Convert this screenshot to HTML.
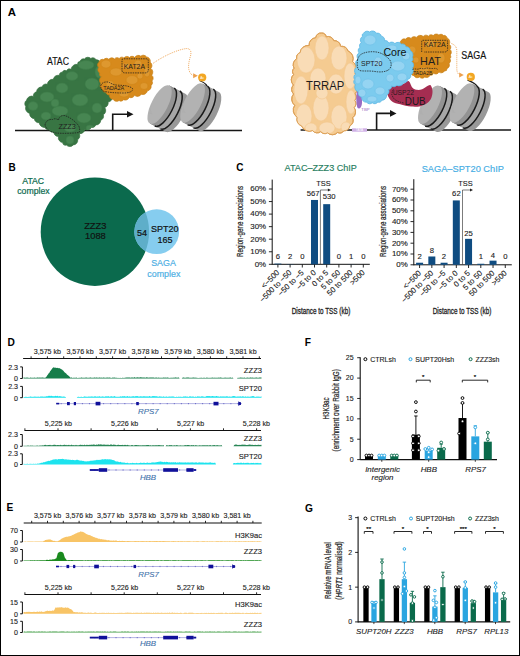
<!DOCTYPE html>
<html><head><meta charset="utf-8"><style>
html,body{margin:0;padding:0;background:#fff;}
svg{display:block;font-family:"Liberation Sans", sans-serif;}
</style></head><body>
<svg width="520" height="656" viewBox="0 0 520 656">
<rect x="0.5" y="0.5" width="519" height="655" fill="#fff" stroke="#000" stroke-width="1"/>
<text x="7.80" y="15.60" font-size="11.4" text-anchor="start" fill="#000" font-weight="bold">A</text>
<path d="M15,130.6 L242,130.6" fill="none" stroke="#161616" stroke-width="1.5"/>
<path d="M112.7,130.8 L112.7,114.2 L128.5,114.2" fill="none" stroke="#161616" stroke-width="1.6"/>
<path d="M127,110.9 L133.5,114.2 L127,117.5 Z" fill="#161616"/>
<g transform="translate(159.6,104.6) rotate(27) scale(1.0)"><path d="M0,-21.3 L18.0,-21.3 A8.2,21.3 0 0 1 18.0,21.3 L0,21.3 Z" fill="#989898"/><path d="M5.4,-21.3 L11.8,-21.3 A8.2,21.3 0 0 1 11.8,21.3 L5.4,21.3 A8.2,21.3 0 0 0 5.4,-21.3Z" fill="#a6a6a6"/><path d="M0,-21.3 L5.4,-21.3 A8.2,21.3 0 0 1 5.4,21.3 L0,21.3Z" fill="#939393"/><ellipse cx="0" cy="0" rx="8.2" ry="21.3" fill="#b2b2b2"/><path d="M-1.6,11.7 A8.2,21.3 0 0 1 -7.8,2.1 L-4.9,12.8Z" fill="#acacac" opacity="0.5"/><path d="M5.4,-21.3 A8.2,21.3 0 0 1 5.4,21.3" fill="none" stroke="#1a1a1a" stroke-width="1.5"/><path d="M11.8,-21.3 A8.2,21.3 0 0 1 11.8,21.3" fill="none" stroke="#1a1a1a" stroke-width="1.5"/></g>
<g transform="translate(192.6,103.0) rotate(27) scale(1.02)"><path d="M0,-21.3 L18.0,-21.3 A8.2,21.3 0 0 1 18.0,21.3 L0,21.3 Z" fill="#989898"/><path d="M5.4,-21.3 L11.8,-21.3 A8.2,21.3 0 0 1 11.8,21.3 L5.4,21.3 A8.2,21.3 0 0 0 5.4,-21.3Z" fill="#a6a6a6"/><path d="M0,-21.3 L5.4,-21.3 A8.2,21.3 0 0 1 5.4,21.3 L0,21.3Z" fill="#939393"/><ellipse cx="0" cy="0" rx="8.2" ry="21.3" fill="#b2b2b2"/><path d="M-1.6,11.7 A8.2,21.3 0 0 1 -7.8,2.1 L-4.9,12.8Z" fill="#acacac" opacity="0.5"/><path d="M5.4,-21.3 A8.2,21.3 0 0 1 5.4,21.3" fill="none" stroke="#1a1a1a" stroke-width="1.5"/><path d="M11.8,-21.3 A8.2,21.3 0 0 1 11.8,21.3" fill="none" stroke="#1a1a1a" stroke-width="1.5"/></g>
<path d="M199.5,80.5 C203,82 206,83.5 207,86" fill="none" stroke="#1c1c1c" stroke-width="1.3"/>
<circle cx="202.2" cy="77.5" r="4.1" fill="#f2a623"/>
<text x="202.20" y="78.90" font-size="3.4" text-anchor="middle" fill="#fff">Ac</text>
<path d="M80.0,61.5 A3.4,3.4 0 0 1 84.4,59.0 A4.4,4.4 0 0 1 90.8,58.4 A3.8,3.8 0 0 1 96.2,59.8 A4.4,4.4 0 0 1 100.8,64.5 A4.9,4.9 0 0 1 103.0,71.4 A3.2,3.2 0 0 1 104.2,75.9 A3.3,3.3 0 0 1 105.4,80.6 A5.1,5.1 0 0 1 107.6,87.7 A3.6,3.6 0 0 1 109.8,92.5 A3.4,3.4 0 0 1 112.3,96.8 A4.6,4.6 0 0 1 108.0,102.0 A4.3,4.3 0 0 1 104.7,107.4 A5.1,5.1 0 0 1 103.3,114.8 A4.1,4.1 0 0 1 100.7,120.2 A4.7,4.7 0 0 1 95.7,124.9 A3.3,3.3 0 0 1 91.4,127.2 A4.7,4.7 0 0 1 84.8,129.4 A4.8,4.8 0 0 1 79.1,133.6 A4.3,4.3 0 0 1 77.7,139.6 A4.6,4.6 0 0 1 73.3,144.9 A4.7,4.7 0 0 1 66.4,145.1 A3.1,3.1 0 0 1 62.6,142.6 A5.0,5.0 0 0 1 58.5,136.4 A4.4,4.4 0 0 1 53.8,131.9 A3.6,3.6 0 0 1 49.0,129.6 A3.0,3.0 0 0 1 45.1,127.4 A5.1,5.1 0 0 1 39.3,122.7 A4.3,4.3 0 0 1 34.4,118.7 A4.9,4.9 0 0 1 29.7,113.4 A5.4,5.4 0 0 1 25.8,106.5 A4.3,4.3 0 0 1 26.5,100.3 A5.4,5.4 0 0 1 33.5,96.4 A3.8,3.8 0 0 1 36.6,91.8 A4.9,4.9 0 0 1 42.0,87.0 A4.1,4.1 0 0 1 47.4,84.3 A5.3,5.3 0 0 1 53.3,79.3 A4.8,4.8 0 0 1 59.3,75.5 A2.9,2.9 0 0 1 62.2,72.2 A3.1,3.1 0 0 1 66.5,70.8 A3.3,3.3 0 0 1 71.1,69.3 A5.6,5.6 0 0 1 77.7,64.4 A2.5,2.5 0 0 1 80.0,61.5Z" fill="#387543" stroke="#336e3e" stroke-width="0.7"/>
<clipPath id="cp1"><path d="M80.0,61.5 A3.4,3.4 0 0 1 84.4,59.0 A4.4,4.4 0 0 1 90.8,58.4 A3.8,3.8 0 0 1 96.2,59.8 A4.4,4.4 0 0 1 100.8,64.5 A4.9,4.9 0 0 1 103.0,71.4 A3.2,3.2 0 0 1 104.2,75.9 A3.3,3.3 0 0 1 105.4,80.6 A5.1,5.1 0 0 1 107.6,87.7 A3.6,3.6 0 0 1 109.8,92.5 A3.4,3.4 0 0 1 112.3,96.8 A4.6,4.6 0 0 1 108.0,102.0 A4.3,4.3 0 0 1 104.7,107.4 A5.1,5.1 0 0 1 103.3,114.8 A4.1,4.1 0 0 1 100.7,120.2 A4.7,4.7 0 0 1 95.7,124.9 A3.3,3.3 0 0 1 91.4,127.2 A4.7,4.7 0 0 1 84.8,129.4 A4.8,4.8 0 0 1 79.1,133.6 A4.3,4.3 0 0 1 77.7,139.6 A4.6,4.6 0 0 1 73.3,144.9 A4.7,4.7 0 0 1 66.4,145.1 A3.1,3.1 0 0 1 62.6,142.6 A5.0,5.0 0 0 1 58.5,136.4 A4.4,4.4 0 0 1 53.8,131.9 A3.6,3.6 0 0 1 49.0,129.6 A3.0,3.0 0 0 1 45.1,127.4 A5.1,5.1 0 0 1 39.3,122.7 A4.3,4.3 0 0 1 34.4,118.7 A4.9,4.9 0 0 1 29.7,113.4 A5.4,5.4 0 0 1 25.8,106.5 A4.3,4.3 0 0 1 26.5,100.3 A5.4,5.4 0 0 1 33.5,96.4 A3.8,3.8 0 0 1 36.6,91.8 A4.9,4.9 0 0 1 42.0,87.0 A4.1,4.1 0 0 1 47.4,84.3 A5.3,5.3 0 0 1 53.3,79.3 A4.8,4.8 0 0 1 59.3,75.5 A2.9,2.9 0 0 1 62.2,72.2 A3.1,3.1 0 0 1 66.5,70.8 A3.3,3.3 0 0 1 71.1,69.3 A5.6,5.6 0 0 1 77.7,64.4 A2.5,2.5 0 0 1 80.0,61.5Z"/></clipPath>
<g clip-path="url(#cp1)">
<ellipse cx="86" cy="65" rx="8" ry="4.5" fill="#4a8a55" opacity="0.85" stroke="#3f7e4a" stroke-width="0.6"/>
<ellipse cx="72" cy="76" rx="6" ry="4.5" fill="#4a8a55" opacity="0.85" stroke="#3f7e4a" stroke-width="0.6"/>
<ellipse cx="92" cy="84" rx="7" ry="6" fill="#4a8a55" opacity="0.85" stroke="#3f7e4a" stroke-width="0.6"/>
<ellipse cx="62" cy="88" rx="6" ry="5" fill="#4a8a55" opacity="0.85" stroke="#3f7e4a" stroke-width="0.6"/>
<ellipse cx="47" cy="97" rx="7" ry="5" fill="#4a8a55" opacity="0.85" stroke="#3f7e4a" stroke-width="0.6"/>
<ellipse cx="80" cy="100" rx="8" ry="6" fill="#4a8a55" opacity="0.85" stroke="#3f7e4a" stroke-width="0.6"/>
<ellipse cx="97" cy="108" rx="5" ry="5" fill="#4a8a55" opacity="0.85" stroke="#3f7e4a" stroke-width="0.6"/>
<ellipse cx="33" cy="106" rx="5" ry="4.5" fill="#4a8a55" opacity="0.85" stroke="#3f7e4a" stroke-width="0.6"/>
<ellipse cx="60" cy="111" rx="8" ry="5" fill="#4a8a55" opacity="0.85" stroke="#3f7e4a" stroke-width="0.6"/>
<ellipse cx="84" cy="118" rx="7" ry="5" fill="#4a8a55" opacity="0.85" stroke="#3f7e4a" stroke-width="0.6"/>
<ellipse cx="46" cy="116" rx="5" ry="4" fill="#4a8a55" opacity="0.85" stroke="#3f7e4a" stroke-width="0.6"/>
<ellipse cx="70" cy="128" rx="6" ry="4" fill="#4a8a55" opacity="0.85" stroke="#3f7e4a" stroke-width="0.6"/>
<ellipse cx="99" cy="72" rx="4" ry="6" fill="#4a8a55" opacity="0.85" stroke="#3f7e4a" stroke-width="0.6"/>
<ellipse cx="70" cy="140" rx="4" ry="4" fill="#4a8a55" opacity="0.85" stroke="#3f7e4a" stroke-width="0.6"/>
<ellipse cx="55" cy="103" rx="4" ry="4" fill="#4a8a55" opacity="0.85" stroke="#3f7e4a" stroke-width="0.6"/>
<ellipse cx="90" cy="128" rx="4" ry="3" fill="#4a8a55" opacity="0.85" stroke="#3f7e4a" stroke-width="0.6"/>
</g>
<path d="M45,125 C45.5,121 49,119 52.5,119.5 C55,118 57,119 58.5,120 C59,116 63,114.5 66,116 C70,117.5 75,121 78.5,125.5 C80,128 80,131 79,132.5 C72,133.5 62,133.5 56,133 C50,132 46,129 45,125Z" fill="none" stroke="#1e1e1e" stroke-width="0.75" stroke-dasharray="1.5,0.9"/>
<text x="58.50" y="129.20" font-size="6.4" text-anchor="start" fill="#1e1e1e" textLength="17.3" lengthAdjust="spacingAndGlyphs">ZZZ3</text>
<text x="47.00" y="65.40" font-size="10.0" text-anchor="start" fill="#111" textLength="22" lengthAdjust="spacingAndGlyphs" stroke="#111" stroke-width="0.15">ATAC</text>
<path d="M99.0,62.0 A3.5,3.5 0 0 1 103.8,59.6 A3.3,3.3 0 0 1 108.8,59.3 A3.7,3.7 0 0 1 114.4,59.0 A3.2,3.2 0 0 1 119.2,58.5 A3.1,3.1 0 0 1 123.9,58.0 A3.6,3.6 0 0 1 129.4,57.5 A3.5,3.5 0 0 1 134.7,57.5 A4.1,4.1 0 0 1 140.8,56.2 A3.8,3.8 0 0 1 146.5,56.9 A4.3,4.3 0 0 1 150.2,62.2 A4.1,4.1 0 0 1 150.8,68.4 A4.6,4.6 0 0 1 151.7,75.2 A3.8,3.8 0 0 1 151.9,81.0 A3.0,3.0 0 0 1 151.0,85.4 A4.3,4.3 0 0 1 147.4,90.8 A4.6,4.6 0 0 1 141.3,94.2 A4.5,4.5 0 0 1 134.5,95.3 A3.7,3.7 0 0 1 129.2,97.2 A4.1,4.1 0 0 1 123.5,99.7 A3.0,3.0 0 0 1 119.1,100.5 A4.1,4.1 0 0 1 113.0,99.2 A3.7,3.7 0 0 1 109.4,94.9 A3.0,3.0 0 0 1 105.9,92.0 A2.7,2.7 0 0 1 102.6,89.6 A4.2,4.2 0 0 1 100.8,83.5 A4.5,4.5 0 0 1 101.3,76.8 A2.5,2.5 0 0 1 99.8,73.2 A3.9,3.9 0 0 1 98.7,67.4 A3.2,3.2 0 0 1 98.7,62.5 A0.6,0.6 0 0 1 99.0,62.0Z" fill="#d78a1c" stroke="#c67e14" stroke-width="0.7"/>
<clipPath id="cp2"><path d="M99.0,62.0 A3.5,3.5 0 0 1 103.8,59.6 A3.3,3.3 0 0 1 108.8,59.3 A3.7,3.7 0 0 1 114.4,59.0 A3.2,3.2 0 0 1 119.2,58.5 A3.1,3.1 0 0 1 123.9,58.0 A3.6,3.6 0 0 1 129.4,57.5 A3.5,3.5 0 0 1 134.7,57.5 A4.1,4.1 0 0 1 140.8,56.2 A3.8,3.8 0 0 1 146.5,56.9 A4.3,4.3 0 0 1 150.2,62.2 A4.1,4.1 0 0 1 150.8,68.4 A4.6,4.6 0 0 1 151.7,75.2 A3.8,3.8 0 0 1 151.9,81.0 A3.0,3.0 0 0 1 151.0,85.4 A4.3,4.3 0 0 1 147.4,90.8 A4.6,4.6 0 0 1 141.3,94.2 A4.5,4.5 0 0 1 134.5,95.3 A3.7,3.7 0 0 1 129.2,97.2 A4.1,4.1 0 0 1 123.5,99.7 A3.0,3.0 0 0 1 119.1,100.5 A4.1,4.1 0 0 1 113.0,99.2 A3.7,3.7 0 0 1 109.4,94.9 A3.0,3.0 0 0 1 105.9,92.0 A2.7,2.7 0 0 1 102.6,89.6 A4.2,4.2 0 0 1 100.8,83.5 A4.5,4.5 0 0 1 101.3,76.8 A2.5,2.5 0 0 1 99.8,73.2 A3.9,3.9 0 0 1 98.7,67.4 A3.2,3.2 0 0 1 98.7,62.5 A0.6,0.6 0 0 1 99.0,62.0Z"/></clipPath>
<g clip-path="url(#cp2)">
<ellipse cx="106" cy="64" rx="5" ry="4" fill="#e09a33" opacity="0.85" stroke="#cf8519" stroke-width="0.6"/>
<ellipse cx="116" cy="72" rx="6" ry="4" fill="#e09a33" opacity="0.85" stroke="#cf8519" stroke-width="0.6"/>
<ellipse cx="132" cy="80" rx="6" ry="4.5" fill="#e09a33" opacity="0.85" stroke="#cf8519" stroke-width="0.6"/>
<ellipse cx="144" cy="86" rx="4" ry="3.5" fill="#e09a33" opacity="0.85" stroke="#cf8519" stroke-width="0.6"/>
<ellipse cx="110" cy="84" rx="4" ry="3.5" fill="#e09a33" opacity="0.85" stroke="#cf8519" stroke-width="0.6"/>
<ellipse cx="138" cy="64" rx="4" ry="4" fill="#e09a33" opacity="0.85" stroke="#cf8519" stroke-width="0.6"/>
<ellipse cx="124" cy="94" rx="5" ry="3" fill="#e09a33" opacity="0.85" stroke="#cf8519" stroke-width="0.6"/>
<ellipse cx="147" cy="72" rx="3" ry="5" fill="#e09a33" opacity="0.85" stroke="#cf8519" stroke-width="0.6"/>
<ellipse cx="126" cy="66" rx="4" ry="3" fill="#e09a33" opacity="0.85" stroke="#cf8519" stroke-width="0.6"/>
<ellipse cx="140" cy="76" rx="3" ry="3" fill="#e09a33" opacity="0.85" stroke="#cf8519" stroke-width="0.6"/>
</g>
<path d="M122,60 Q122,58.8 123.5,58.8 L146.5,58.8 Q148.3,58.8 148.3,61 L148.3,70 Q148.3,72.9 145,72.9 L125,72.9 Q122,72.9 122,70 Z" fill="none" stroke="#1e1e1e" stroke-width="0.75" stroke-dasharray="1.5,0.9"/>
<text x="123.80" y="69.10" font-size="6.8" text-anchor="start" fill="#1e1e1e" textLength="21.2" lengthAdjust="spacingAndGlyphs">KAT2A</text>
<path d="M100.8,85.5 C101.5,82.5 106,81 109.5,82.5 C112,84 114,85 118,85.2 C124,85.3 130,86 132.5,88.5 C133.5,91 130,93 124,93 C116,93 108,92.5 103,91 C101,89.5 100.5,87.5 100.8,85.5Z" fill="none" stroke="#1e1e1e" stroke-width="0.75" stroke-dasharray="1.5,0.9"/>
<text x="103.20" y="90.00" font-size="5.3" text-anchor="start" fill="#1e1e1e" textLength="21" lengthAdjust="spacingAndGlyphs">TADA2A</text>
<path d="M153,63.4 C162,57 176,50 186,48.6 C191,48.2 191.5,52 190.5,56 C189,61 188,66 189,70 C190,73.5 191.5,75 193.8,75.7" fill="none" stroke="#eda04e" stroke-width="0.9" stroke-dasharray="1,1"/>
<path d="M193.2,73.3 L197.8,75.8 L193.2,78.3Z" fill="#eda04e"/>
<path d="M300.6,130 L511,130" fill="none" stroke="#161616" stroke-width="1.5"/>
<path d="M376.6,130 L376.6,113.4 L391.5,113.4" fill="none" stroke="#161616" stroke-width="1.6"/>
<path d="M390,110.1 L396.5,113.4 L390,116.7 Z" fill="#161616"/>
<g transform="translate(430.0,104.8) rotate(27) scale(0.99)"><path d="M0,-21.3 L18.0,-21.3 A8.2,21.3 0 0 1 18.0,21.3 L0,21.3 Z" fill="#989898"/><path d="M5.4,-21.3 L11.8,-21.3 A8.2,21.3 0 0 1 11.8,21.3 L5.4,21.3 A8.2,21.3 0 0 0 5.4,-21.3Z" fill="#a6a6a6"/><path d="M0,-21.3 L5.4,-21.3 A8.2,21.3 0 0 1 5.4,21.3 L0,21.3Z" fill="#939393"/><ellipse cx="0" cy="0" rx="8.2" ry="21.3" fill="#b2b2b2"/><path d="M-1.6,11.7 A8.2,21.3 0 0 1 -7.8,2.1 L-4.9,12.8Z" fill="#acacac" opacity="0.5"/><path d="M5.4,-21.3 A8.2,21.3 0 0 1 5.4,21.3" fill="none" stroke="#1a1a1a" stroke-width="1.5"/><path d="M11.8,-21.3 A8.2,21.3 0 0 1 11.8,21.3" fill="none" stroke="#1a1a1a" stroke-width="1.5"/></g>
<g transform="translate(462.0,103.0) rotate(27) scale(1.02)"><path d="M0,-21.3 L18.0,-21.3 A8.2,21.3 0 0 1 18.0,21.3 L0,21.3 Z" fill="#989898"/><path d="M5.4,-21.3 L11.8,-21.3 A8.2,21.3 0 0 1 11.8,21.3 L5.4,21.3 A8.2,21.3 0 0 0 5.4,-21.3Z" fill="#a6a6a6"/><path d="M0,-21.3 L5.4,-21.3 A8.2,21.3 0 0 1 5.4,21.3 L0,21.3Z" fill="#939393"/><ellipse cx="0" cy="0" rx="8.2" ry="21.3" fill="#b2b2b2"/><path d="M-1.6,11.7 A8.2,21.3 0 0 1 -7.8,2.1 L-4.9,12.8Z" fill="#acacac" opacity="0.5"/><path d="M5.4,-21.3 A8.2,21.3 0 0 1 5.4,21.3" fill="none" stroke="#1a1a1a" stroke-width="1.5"/><path d="M11.8,-21.3 A8.2,21.3 0 0 1 11.8,21.3" fill="none" stroke="#1a1a1a" stroke-width="1.5"/></g>
<path d="M467.5,80 C471,81.5 475,83 477,86" fill="none" stroke="#1c1c1c" stroke-width="1.3"/>
<circle cx="470.8" cy="76.9" r="4.1" fill="#f2a623"/>
<text x="470.80" y="78.30" font-size="3.4" text-anchor="middle" fill="#fff">Ac</text>
<path d="M321.6,33.0 A5.3,5.3 0 0 0 315.7,37.7 A7.2,7.2 0 0 0 309.1,45.5 A8.0,8.0 0 0 0 300.1,52.7 A4.8,4.8 0 0 0 296.7,58.7 A6.9,6.9 0 0 0 294.1,68.2 A4.4,4.4 0 0 0 293.6,74.5 A7.3,7.3 0 0 0 293.4,85.0 A6.3,6.3 0 0 0 293.6,94.0 A7.9,7.9 0 0 0 294.7,105.3 A8.6,8.6 0 0 0 297.2,117.3 A6.8,6.8 0 0 0 301.6,125.9 A8.4,8.4 0 0 0 312.6,130.6 A5.7,5.7 0 0 0 320.8,131.6 A4.8,4.8 0 0 0 327.5,132.8 A7.1,7.1 0 0 0 337.6,132.5 A4.5,4.5 0 0 0 343.8,130.8 A5.5,5.5 0 0 0 349.8,125.8 A5.9,5.9 0 0 0 352.6,117.8 A7.3,7.3 0 0 0 354.1,107.5 A5.0,5.0 0 0 0 354.7,100.3 A4.5,4.5 0 0 0 355.0,93.8 A8.0,8.0 0 0 0 355.3,82.4 A6.0,6.0 0 0 0 354.9,73.8 A8.7,8.7 0 0 0 352.6,61.6 A8.2,8.2 0 0 0 347.9,50.9 A6.0,6.0 0 0 0 340.7,46.4 A6.3,6.3 0 0 0 333.8,40.6 A6.0,6.0 0 0 0 326.2,36.8 A4.2,4.2 0 0 0 321.6,33.0Z" fill="#f5cb91" stroke="#dea259" stroke-width="1.0"/>
<clipPath id="cp3"><path d="M321.6,33.0 A5.3,5.3 0 0 0 315.7,37.7 A7.2,7.2 0 0 0 309.1,45.5 A8.0,8.0 0 0 0 300.1,52.7 A4.8,4.8 0 0 0 296.7,58.7 A6.9,6.9 0 0 0 294.1,68.2 A4.4,4.4 0 0 0 293.6,74.5 A7.3,7.3 0 0 0 293.4,85.0 A6.3,6.3 0 0 0 293.6,94.0 A7.9,7.9 0 0 0 294.7,105.3 A8.6,8.6 0 0 0 297.2,117.3 A6.8,6.8 0 0 0 301.6,125.9 A8.4,8.4 0 0 0 312.6,130.6 A5.7,5.7 0 0 0 320.8,131.6 A4.8,4.8 0 0 0 327.5,132.8 A7.1,7.1 0 0 0 337.6,132.5 A4.5,4.5 0 0 0 343.8,130.8 A5.5,5.5 0 0 0 349.8,125.8 A5.9,5.9 0 0 0 352.6,117.8 A7.3,7.3 0 0 0 354.1,107.5 A5.0,5.0 0 0 0 354.7,100.3 A4.5,4.5 0 0 0 355.0,93.8 A8.0,8.0 0 0 0 355.3,82.4 A6.0,6.0 0 0 0 354.9,73.8 A8.7,8.7 0 0 0 352.6,61.6 A8.2,8.2 0 0 0 347.9,50.9 A6.0,6.0 0 0 0 340.7,46.4 A6.3,6.3 0 0 0 333.8,40.6 A6.0,6.0 0 0 0 326.2,36.8 A4.2,4.2 0 0 0 321.6,33.0Z"/></clipPath>
<g clip-path="url(#cp3)">
<ellipse cx="306" cy="60" rx="9" ry="13" fill="#f9dcb6" opacity="1.0" stroke="#f4c88e" stroke-width="0.6"/>
<ellipse cx="322" cy="48" rx="7" ry="12" fill="#f9dcb6" opacity="1.0" stroke="#f4c88e" stroke-width="0.6"/>
<ellipse cx="339" cy="58" rx="8" ry="12" fill="#f9dcb6" opacity="1.0" stroke="#f4c88e" stroke-width="0.6"/>
<ellipse cx="350" cy="76" rx="6" ry="13" fill="#f9dcb6" opacity="1.0" stroke="#f4c88e" stroke-width="0.6"/>
<ellipse cx="301" cy="90" rx="7" ry="14" fill="#f9dcb6" opacity="1.0" stroke="#f4c88e" stroke-width="0.6"/>
<ellipse cx="318" cy="78" rx="8" ry="10" fill="#f9dcb6" opacity="1.0" stroke="#f4c88e" stroke-width="0.6"/>
<ellipse cx="336" cy="84" rx="8" ry="10" fill="#f9dcb6" opacity="1.0" stroke="#f4c88e" stroke-width="0.6"/>
<ellipse cx="351" cy="102" rx="5" ry="12" fill="#f9dcb6" opacity="1.0" stroke="#f4c88e" stroke-width="0.6"/>
<ellipse cx="304" cy="116" rx="8" ry="12" fill="#f9dcb6" opacity="1.0" stroke="#f4c88e" stroke-width="0.6"/>
<ellipse cx="321" cy="108" rx="8" ry="13" fill="#f9dcb6" opacity="1.0" stroke="#f4c88e" stroke-width="0.6"/>
<ellipse cx="339" cy="117" rx="8" ry="12" fill="#f9dcb6" opacity="1.0" stroke="#f4c88e" stroke-width="0.6"/>
<ellipse cx="327" cy="128" rx="8" ry="6" fill="#f9dcb6" opacity="1.0" stroke="#f4c88e" stroke-width="0.6"/>
<ellipse cx="311" cy="128" rx="6" ry="5" fill="#f9dcb6" opacity="1.0" stroke="#f4c88e" stroke-width="0.6"/>
<ellipse cx="346" cy="127" rx="5" ry="5" fill="#f9dcb6" opacity="1.0" stroke="#f4c88e" stroke-width="0.6"/>
<ellipse cx="322" cy="93" rx="6" ry="6" fill="#f9dcb6" opacity="1.0" stroke="#f4c88e" stroke-width="0.6"/>
</g>
<path d="M321.6,33.0 A5.3,5.3 0 0 0 315.7,37.7 A7.2,7.2 0 0 0 309.1,45.5 A8.0,8.0 0 0 0 300.1,52.7 A4.8,4.8 0 0 0 296.7,58.7 A6.9,6.9 0 0 0 294.1,68.2 A4.4,4.4 0 0 0 293.6,74.5 A7.3,7.3 0 0 0 293.4,85.0 A6.3,6.3 0 0 0 293.6,94.0 A7.9,7.9 0 0 0 294.7,105.3 A8.6,8.6 0 0 0 297.2,117.3 A6.8,6.8 0 0 0 301.6,125.9 A8.4,8.4 0 0 0 312.6,130.6 A5.7,5.7 0 0 0 320.8,131.6 A4.8,4.8 0 0 0 327.5,132.8 A7.1,7.1 0 0 0 337.6,132.5 A4.5,4.5 0 0 0 343.8,130.8 A5.5,5.5 0 0 0 349.8,125.8 A5.9,5.9 0 0 0 352.6,117.8 A7.3,7.3 0 0 0 354.1,107.5 A5.0,5.0 0 0 0 354.7,100.3 A4.5,4.5 0 0 0 355.0,93.8 A8.0,8.0 0 0 0 355.3,82.4 A6.0,6.0 0 0 0 354.9,73.8 A8.7,8.7 0 0 0 352.6,61.6 A8.2,8.2 0 0 0 347.9,50.9 A6.0,6.0 0 0 0 340.7,46.4 A6.3,6.3 0 0 0 333.8,40.6 A6.0,6.0 0 0 0 326.2,36.8 A4.2,4.2 0 0 0 321.6,33.0Z" fill="none" stroke="#dea259" stroke-width="1.0"/>
<text x="306.10" y="90.40" font-size="12.4" text-anchor="start" fill="#1d1d1d" textLength="38.1" lengthAdjust="spacingAndGlyphs">TRRAP</text>
<path d="M357.5,88.5 C360.5,90 362.5,97 362,103 C361.8,107.5 359.5,109.5 357.6,108 C355.8,103 356,94 357.5,88.5Z" fill="#9b6cc3"/>
<text x="361.30" y="111.30" font-size="4.3" text-anchor="start" fill="#9b6cc3">TBP</text>
<rect x="352" y="128.3" width="15" height="3.4" fill="#cfb0e6"/>
<text x="359.50" y="131.20" font-size="3.2" text-anchor="middle" fill="#fff">TATA</text>
<path d="M401.0,41.0 A3.3,3.3 0 0 1 405.6,39.2 A3.6,3.6 0 0 1 411.0,38.4 A3.7,3.7 0 0 1 416.4,37.4 A4.5,4.5 0 0 1 423.2,36.5 A3.4,3.4 0 0 1 428.4,36.2 A3.2,3.2 0 0 1 433.2,35.6 A3.8,3.8 0 0 1 438.9,35.1 A2.9,2.9 0 0 1 443.3,35.5 A2.9,2.9 0 0 1 447.0,37.9 A4.5,4.5 0 0 1 449.2,44.3 A3.5,3.5 0 0 1 450.0,49.5 A3.6,3.6 0 0 1 450.1,55.0 A2.4,2.4 0 0 1 449.8,58.7 A3.3,3.3 0 0 1 449.0,63.5 A3.5,3.5 0 0 1 447.0,68.5 A2.4,2.4 0 0 1 444.4,71.0 A3.6,3.6 0 0 1 439.1,72.1 A3.8,3.8 0 0 1 433.4,73.1 A2.5,2.5 0 0 1 430.2,75.1 A3.7,3.7 0 0 1 424.8,76.9 A3.5,3.5 0 0 1 419.5,77.0 A3.7,3.7 0 0 1 414.0,75.7 A3.1,3.1 0 0 1 411.0,72.0 A4.0,4.0 0 0 1 406.5,67.8 A3.8,3.8 0 0 1 403.0,63.1 A2.5,2.5 0 0 1 401.2,59.9 A2.7,2.7 0 0 1 400.0,56.0 A4.3,4.3 0 0 1 399.8,49.4 A4.4,4.4 0 0 1 400.5,42.8 A1.2,1.2 0 0 1 401.0,41.0Z" fill="#d78a1c" stroke="#c67e14" stroke-width="0.7"/>
<clipPath id="cp4"><path d="M401.0,41.0 A3.3,3.3 0 0 1 405.6,39.2 A3.6,3.6 0 0 1 411.0,38.4 A3.7,3.7 0 0 1 416.4,37.4 A4.5,4.5 0 0 1 423.2,36.5 A3.4,3.4 0 0 1 428.4,36.2 A3.2,3.2 0 0 1 433.2,35.6 A3.8,3.8 0 0 1 438.9,35.1 A2.9,2.9 0 0 1 443.3,35.5 A2.9,2.9 0 0 1 447.0,37.9 A4.5,4.5 0 0 1 449.2,44.3 A3.5,3.5 0 0 1 450.0,49.5 A3.6,3.6 0 0 1 450.1,55.0 A2.4,2.4 0 0 1 449.8,58.7 A3.3,3.3 0 0 1 449.0,63.5 A3.5,3.5 0 0 1 447.0,68.5 A2.4,2.4 0 0 1 444.4,71.0 A3.6,3.6 0 0 1 439.1,72.1 A3.8,3.8 0 0 1 433.4,73.1 A2.5,2.5 0 0 1 430.2,75.1 A3.7,3.7 0 0 1 424.8,76.9 A3.5,3.5 0 0 1 419.5,77.0 A3.7,3.7 0 0 1 414.0,75.7 A3.1,3.1 0 0 1 411.0,72.0 A4.0,4.0 0 0 1 406.5,67.8 A3.8,3.8 0 0 1 403.0,63.1 A2.5,2.5 0 0 1 401.2,59.9 A2.7,2.7 0 0 1 400.0,56.0 A4.3,4.3 0 0 1 399.8,49.4 A4.4,4.4 0 0 1 400.5,42.8 A1.2,1.2 0 0 1 401.0,41.0Z"/></clipPath>
<g clip-path="url(#cp4)">
<ellipse cx="430" cy="44" rx="5" ry="4" fill="#e09a33" opacity="0.85" stroke="#cf8519" stroke-width="0.6"/>
<ellipse cx="441" cy="58" rx="4" ry="5" fill="#e09a33" opacity="0.85" stroke="#cf8519" stroke-width="0.6"/>
<ellipse cx="424" cy="70" rx="5" ry="3" fill="#e09a33" opacity="0.85" stroke="#cf8519" stroke-width="0.6"/>
<ellipse cx="412" cy="50" rx="4" ry="4" fill="#e09a33" opacity="0.85" stroke="#cf8519" stroke-width="0.6"/>
<ellipse cx="416" cy="60" rx="3" ry="3" fill="#e09a33" opacity="0.85" stroke="#cf8519" stroke-width="0.6"/>
</g>
<path d="M387.5,91.0 C388.0,89.4 389.2,87.4 391.0,86.4 C392.8,85.4 396.3,85.7 398.5,85.2 C400.7,84.7 402.5,84.2 404.2,83.5 C405.9,82.8 407.4,80.5 408.8,81.2 C410.2,81.9 411.1,86.1 412.3,87.5 C413.6,88.9 414.7,89.5 416.3,89.8 C417.9,90.1 420.2,90.0 422.1,89.3 C424.0,88.6 426.4,86.4 427.9,85.8 C429.3,85.2 430.0,84.6 430.8,85.5 C431.6,86.4 432.4,88.9 432.5,91.0 C432.6,93.1 432.2,95.9 431.3,97.9 C430.4,99.9 429.1,101.7 427.3,103.1 C425.5,104.5 423.1,105.6 420.4,106.2 C417.7,106.8 414.6,106.9 411.2,106.6 C407.8,106.3 403.4,105.2 400.2,104.3 C397.0,103.4 394.1,102.8 392.1,101.4 C390.1,100.1 388.9,97.9 388.1,96.2 C387.3,94.5 387.0,92.6 387.5,91.0Z" fill="#a52d51"/>
<path d="M363.5,33.4 A4.1,4.1 0 0 1 369.6,32.0 A4.6,4.6 0 0 1 376.5,33.3 A3.7,3.7 0 0 1 381.3,36.2 A3.6,3.6 0 0 1 384.5,40.7 A3.4,3.4 0 0 1 388.8,43.4 A4.0,4.0 0 0 1 394.9,43.6 A4.3,4.3 0 0 1 401.4,44.1 A3.5,3.5 0 0 1 406.0,46.8 A3.7,3.7 0 0 1 410.2,50.6 A4.7,4.7 0 0 1 412.3,57.3 A2.8,2.8 0 0 1 411.6,61.5 A4.4,4.4 0 0 1 412.5,68.1 A4.6,4.6 0 0 1 410.7,74.9 A3.6,3.6 0 0 1 407.6,79.3 A3.5,3.5 0 0 1 403.6,82.8 A4.8,4.8 0 0 1 396.7,85.2 A3.3,3.3 0 0 1 391.7,85.9 A3.1,3.1 0 0 1 388.6,89.5 A3.9,3.9 0 0 1 386.5,95.0 A4.5,4.5 0 0 1 381.9,100.2 A3.0,3.0 0 0 1 377.8,102.0 A3.7,3.7 0 0 1 372.2,102.8 A3.6,3.6 0 0 1 366.8,102.3 A4.9,4.9 0 0 1 361.6,97.1 A3.9,3.9 0 0 1 358.4,92.1 A5.3,5.3 0 0 1 355.3,84.7 A3.4,3.4 0 0 1 354.7,79.5 A3.7,3.7 0 0 1 355.7,74.0 A4.8,4.8 0 0 1 356.8,66.8 A5.3,5.3 0 0 1 358.0,58.9 A4.0,4.0 0 0 1 359.0,52.8 A3.6,3.6 0 0 1 360.0,47.4 A3.2,3.2 0 0 1 361.3,42.8 A4.3,4.3 0 0 1 362.5,36.4 A2.1,2.1 0 0 1 363.5,33.4Z" fill="#7ccbee" stroke="#5cb6e4" stroke-width="0.8"/>
<clipPath id="cp5"><path d="M363.5,33.4 A4.1,4.1 0 0 1 369.6,32.0 A4.6,4.6 0 0 1 376.5,33.3 A3.7,3.7 0 0 1 381.3,36.2 A3.6,3.6 0 0 1 384.5,40.7 A3.4,3.4 0 0 1 388.8,43.4 A4.0,4.0 0 0 1 394.9,43.6 A4.3,4.3 0 0 1 401.4,44.1 A3.5,3.5 0 0 1 406.0,46.8 A3.7,3.7 0 0 1 410.2,50.6 A4.7,4.7 0 0 1 412.3,57.3 A2.8,2.8 0 0 1 411.6,61.5 A4.4,4.4 0 0 1 412.5,68.1 A4.6,4.6 0 0 1 410.7,74.9 A3.6,3.6 0 0 1 407.6,79.3 A3.5,3.5 0 0 1 403.6,82.8 A4.8,4.8 0 0 1 396.7,85.2 A3.3,3.3 0 0 1 391.7,85.9 A3.1,3.1 0 0 1 388.6,89.5 A3.9,3.9 0 0 1 386.5,95.0 A4.5,4.5 0 0 1 381.9,100.2 A3.0,3.0 0 0 1 377.8,102.0 A3.7,3.7 0 0 1 372.2,102.8 A3.6,3.6 0 0 1 366.8,102.3 A4.9,4.9 0 0 1 361.6,97.1 A3.9,3.9 0 0 1 358.4,92.1 A5.3,5.3 0 0 1 355.3,84.7 A3.4,3.4 0 0 1 354.7,79.5 A3.7,3.7 0 0 1 355.7,74.0 A4.8,4.8 0 0 1 356.8,66.8 A5.3,5.3 0 0 1 358.0,58.9 A4.0,4.0 0 0 1 359.0,52.8 A3.6,3.6 0 0 1 360.0,47.4 A3.2,3.2 0 0 1 361.3,42.8 A4.3,4.3 0 0 1 362.5,36.4 A2.1,2.1 0 0 1 363.5,33.4Z"/></clipPath>
<g clip-path="url(#cp5)">
<ellipse cx="370" cy="40" rx="6" ry="5" fill="#98d5f2" opacity="0.9" stroke="#6fc0e8" stroke-width="0.6"/>
<ellipse cx="378" cy="62" rx="4" ry="5" fill="#98d5f2" opacity="0.9" stroke="#6fc0e8" stroke-width="0.6"/>
<ellipse cx="398" cy="66" rx="7" ry="5" fill="#98d5f2" opacity="0.9" stroke="#6fc0e8" stroke-width="0.6"/>
<ellipse cx="402" cy="77" rx="5" ry="4" fill="#98d5f2" opacity="0.9" stroke="#6fc0e8" stroke-width="0.6"/>
<ellipse cx="368" cy="84" rx="6" ry="5" fill="#98d5f2" opacity="0.9" stroke="#6fc0e8" stroke-width="0.6"/>
<ellipse cx="380" cy="91" rx="5" ry="4" fill="#98d5f2" opacity="0.9" stroke="#6fc0e8" stroke-width="0.6"/>
<ellipse cx="362" cy="93" rx="4" ry="4" fill="#98d5f2" opacity="0.9" stroke="#6fc0e8" stroke-width="0.6"/>
<ellipse cx="390" cy="78" rx="4" ry="4" fill="#98d5f2" opacity="0.9" stroke="#6fc0e8" stroke-width="0.6"/>
<ellipse cx="406" cy="56" rx="4" ry="4" fill="#98d5f2" opacity="0.9" stroke="#6fc0e8" stroke-width="0.6"/>
<ellipse cx="372" cy="99" rx="5" ry="3" fill="#98d5f2" opacity="0.9" stroke="#6fc0e8" stroke-width="0.6"/>
<ellipse cx="392" cy="48" rx="5" ry="3" fill="#98d5f2" opacity="0.9" stroke="#6fc0e8" stroke-width="0.6"/>
<ellipse cx="358" cy="80" rx="3" ry="4" fill="#98d5f2" opacity="0.9" stroke="#6fc0e8" stroke-width="0.6"/>
</g>
<path d="M357.5,60 C358.5,55 362,53 368,52 C374,51.2 380,52 384,55 C387,57 389.5,59 390.4,61 C391.7,64 391.5,67 389,69.5 C386,72 380,72.4 375,71.5 C369,70.5 363,71.5 359.5,70.5 C357,69 357,64 357.5,60Z" fill="none" stroke="#1e1e1e" stroke-width="0.75" stroke-dasharray="1.5,0.9"/>
<text x="361.00" y="66.10" font-size="7.1" text-anchor="start" fill="#1e1e1e" textLength="21.3" lengthAdjust="spacingAndGlyphs">SPT20</text>
<text x="383.40" y="55.90" font-size="11.1" text-anchor="start" fill="#111" textLength="23.1" lengthAdjust="spacingAndGlyphs">Core</text>
<path d="M421.7,52 L421.7,41.5 Q421.7,40.3 423,40.3 L446.5,40.3 Q447.6,40.3 447.6,41.5 L447.6,49 Q447.6,52 444.5,52 L424,52" fill="none" stroke="#1e1e1e" stroke-width="0.75" stroke-dasharray="1.5,0.9"/>
<text x="423.80" y="47.10" font-size="6.8" text-anchor="start" fill="#1e1e1e" textLength="21.9" lengthAdjust="spacingAndGlyphs">KAT2A</text>
<path d="M412.5,69.5 C415,68 417,70 419,68.8 C421,67.6 423,69.5 425,68.5 C428,67.5 431,69 434,68.4 C436,68 437.5,69 438,70" fill="none" stroke="#1e1e1e" stroke-width="0.7" stroke-dasharray="1.5,0.9"/>
<text x="413.20" y="74.50" font-size="5.1" text-anchor="start" fill="#1e1e1e" textLength="19.1" lengthAdjust="spacingAndGlyphs">TADA2B</text>
<text x="420.10" y="65.00" font-size="11" text-anchor="start" fill="#1e1e1e" textLength="20.8" lengthAdjust="spacingAndGlyphs">HAT</text>
<path d="M393.5,89.5 C391.5,91 392.5,93 391.8,94.5 C392.5,96 393,98.5 395.5,100 C398,101.5 401,102.5 404,103" fill="none" stroke="#1e1e1e" stroke-width="0.75" stroke-dasharray="1.5,0.9"/>
<text x="392.70" y="95.00" font-size="6.6" text-anchor="start" fill="#2a1a20" textLength="21.3" lengthAdjust="spacingAndGlyphs">USP22</text>
<text x="404.80" y="104.80" font-size="10.2" text-anchor="start" fill="#1a1a1a" textLength="20.8" lengthAdjust="spacingAndGlyphs">DUB</text>
<path d="M451.5,43.5 C455,45 456.8,47 456.8,51 L456.8,68 C456.8,71.5 457.5,73.8 459.6,74.8" fill="none" stroke="#eda04e" stroke-width="0.9" stroke-dasharray="1,1"/>
<path d="M459.2,72.5 L463.8,75 L459.2,77.5Z" fill="#eda04e"/>
<text x="461.30" y="58.50" font-size="10.2" text-anchor="start" fill="#111" textLength="24.9" lengthAdjust="spacingAndGlyphs" stroke="#111" stroke-width="0.15">SAGA</text>
<text x="8.40" y="171.20" font-size="10" text-anchor="start" fill="#000" font-weight="bold">B</text>
<defs><clipPath id="bigc"><circle cx="94.9" cy="231.8" r="54.2"/></clipPath></defs>
<circle cx="94.9" cy="231.8" r="54.2" fill="#0b6a4d"/>
<circle cx="156.7" cy="231.7" r="22.4" fill="#86cdef"/>
<circle cx="156.7" cy="231.7" r="22.4" fill="#5eaec9" clip-path="url(#bigc)"/>
<text x="33.20" y="183.60" font-size="8.7" text-anchor="middle" fill="#0b6a4d" stroke="#0b6a4d" stroke-width="0.2">ATAC</text>
<text x="33.40" y="194.40" font-size="8.7" text-anchor="middle" fill="#0b6a4d" stroke="#0b6a4d" stroke-width="0.2">complex</text>
<text x="95.30" y="228.50" font-size="9.3" text-anchor="middle" fill="#111" stroke="#111" stroke-width="0.2">ZZZ3</text>
<text x="95.40" y="239.20" font-size="9.3" text-anchor="middle" fill="#111" stroke="#111" stroke-width="0.2">1088</text>
<text x="141.90" y="235.70" font-size="9.0" text-anchor="middle" fill="#111" stroke="#111" stroke-width="0.2">54</text>
<text x="164.80" y="231.90" font-size="9.0" text-anchor="middle" fill="#111" stroke="#111" stroke-width="0.2">SPT20</text>
<text x="165.00" y="242.80" font-size="9.0" text-anchor="middle" fill="#111" stroke="#111" stroke-width="0.2">165</text>
<text x="163.50" y="266.40" font-size="8.9" text-anchor="middle" fill="#4fb0e4" stroke="#4fb0e4" stroke-width="0.2">SAGA</text>
<text x="163.80" y="277.20" font-size="8.9" text-anchor="middle" fill="#4fb0e4" stroke="#4fb0e4" stroke-width="0.2">complex</text>
<text x="236.30" y="171.20" font-size="10" text-anchor="start" fill="#000" font-weight="bold">C</text>
<text x="284.60" y="171.10" font-size="9.1" text-anchor="start" fill="#1f7d5e" textLength="72.3" lengthAdjust="spacingAndGlyphs" stroke="#1f7d5e" stroke-width="0.15">ATAC&#8211;ZZZ3 ChIP</text>
<line x1="272.20" y1="179.60" x2="272.20" y2="264.80" stroke="#111" stroke-width="1"/>
<line x1="268.90" y1="264.30" x2="272.20" y2="264.30" stroke="#111" stroke-width="0.9"/>
<text x="266.10" y="266.60" font-size="6.8" text-anchor="end" fill="#222" textLength="11.42" lengthAdjust="spacingAndGlyphs" stroke="#222" stroke-width="0.12">0%</text>
<line x1="268.90" y1="251.75" x2="272.20" y2="251.75" stroke="#111" stroke-width="0.9"/>
<text x="266.10" y="254.05" font-size="6.8" text-anchor="end" fill="#222" textLength="15.8" lengthAdjust="spacingAndGlyphs" stroke="#222" stroke-width="0.12">10%</text>
<line x1="268.90" y1="239.20" x2="272.20" y2="239.20" stroke="#111" stroke-width="0.9"/>
<text x="266.10" y="241.50" font-size="6.8" text-anchor="end" fill="#222" textLength="15.8" lengthAdjust="spacingAndGlyphs" stroke="#222" stroke-width="0.12">20%</text>
<line x1="268.90" y1="226.65" x2="272.20" y2="226.65" stroke="#111" stroke-width="0.9"/>
<text x="266.10" y="228.95" font-size="6.8" text-anchor="end" fill="#222" textLength="15.8" lengthAdjust="spacingAndGlyphs" stroke="#222" stroke-width="0.12">30%</text>
<line x1="268.90" y1="214.10" x2="272.20" y2="214.10" stroke="#111" stroke-width="0.9"/>
<text x="266.10" y="216.40" font-size="6.8" text-anchor="end" fill="#222" textLength="15.8" lengthAdjust="spacingAndGlyphs" stroke="#222" stroke-width="0.12">40%</text>
<line x1="268.90" y1="201.55" x2="272.20" y2="201.55" stroke="#111" stroke-width="0.9"/>
<text x="266.10" y="203.85" font-size="6.8" text-anchor="end" fill="#222" textLength="15.8" lengthAdjust="spacingAndGlyphs" stroke="#222" stroke-width="0.12">50%</text>
<line x1="268.90" y1="189.00" x2="272.20" y2="189.00" stroke="#111" stroke-width="0.9"/>
<text x="266.10" y="191.30" font-size="6.8" text-anchor="end" fill="#222" textLength="15.8" lengthAdjust="spacingAndGlyphs" stroke="#222" stroke-width="0.12">60%</text>
<line x1="272.20" y1="264.30" x2="369.80" y2="264.30" stroke="#111" stroke-width="1"/>
<line x1="277.90" y1="264.30" x2="277.90" y2="267.50" stroke="#111" stroke-width="0.9"/>
<rect x="274.40" y="263.62" width="7.00" height="0.68" fill="#0f4c81"/>
<text transform="translate(279.90,273.20) rotate(-45)" font-size="7.8" text-anchor="end" fill="#222" stroke="#222" stroke-width="0.12">&lt;&#8722;500</text>
<line x1="290.10" y1="264.30" x2="290.10" y2="267.50" stroke="#111" stroke-width="0.9"/>
<rect x="286.60" y="264.07" width="7.00" height="0.23" fill="#0f4c81"/>
<text transform="translate(292.10,273.20) rotate(-45)" font-size="7.8" text-anchor="end" fill="#222" stroke="#222" stroke-width="0.12">&#8722;500 to &#8722;50</text>
<line x1="302.30" y1="264.30" x2="302.30" y2="267.50" stroke="#111" stroke-width="0.9"/>
<text transform="translate(304.30,273.20) rotate(-45)" font-size="7.8" text-anchor="end" fill="#222" stroke="#222" stroke-width="0.12">&#8722;50 to &#8722;5</text>
<line x1="314.50" y1="264.30" x2="314.50" y2="267.50" stroke="#111" stroke-width="0.9"/>
<rect x="311.00" y="199.96" width="7.00" height="64.34" fill="#0f4c81"/>
<text transform="translate(316.50,273.20) rotate(-45)" font-size="7.8" text-anchor="end" fill="#222" stroke="#222" stroke-width="0.12">&#8722;5 to 0</text>
<line x1="326.70" y1="264.30" x2="326.70" y2="267.50" stroke="#111" stroke-width="0.9"/>
<rect x="323.20" y="204.16" width="7.00" height="60.14" fill="#0f4c81"/>
<text transform="translate(328.70,273.20) rotate(-45)" font-size="7.8" text-anchor="end" fill="#222" stroke="#222" stroke-width="0.12">0 to 5</text>
<line x1="338.90" y1="264.30" x2="338.90" y2="267.50" stroke="#111" stroke-width="0.9"/>
<text transform="translate(340.90,273.20) rotate(-45)" font-size="7.8" text-anchor="end" fill="#222" stroke="#222" stroke-width="0.12">5 to 50</text>
<line x1="351.10" y1="264.30" x2="351.10" y2="267.50" stroke="#111" stroke-width="0.9"/>
<rect x="347.60" y="264.19" width="7.00" height="0.11" fill="#0f4c81"/>
<text transform="translate(353.10,273.20) rotate(-45)" font-size="7.8" text-anchor="end" fill="#222" stroke="#222" stroke-width="0.12">50 to 500</text>
<line x1="363.30" y1="264.30" x2="363.30" y2="267.50" stroke="#111" stroke-width="0.9"/>
<text transform="translate(365.30,273.20) rotate(-45)" font-size="7.8" text-anchor="end" fill="#222" stroke="#222" stroke-width="0.12">&gt;500</text>
<text x="277.90" y="259.00" font-size="7.7" text-anchor="middle" fill="#222" stroke="#222" stroke-width="0.12">6</text>
<text x="290.10" y="259.00" font-size="7.7" text-anchor="middle" fill="#222" stroke="#222" stroke-width="0.12">2</text>
<text x="302.30" y="259.00" font-size="7.7" text-anchor="middle" fill="#222" stroke="#222" stroke-width="0.12">0</text>
<text x="313.20" y="195.50" font-size="7.7" text-anchor="middle" fill="#222" stroke="#222" stroke-width="0.12">567</text>
<text x="329.20" y="199.30" font-size="7.7" text-anchor="middle" fill="#222" stroke="#222" stroke-width="0.12">530</text>
<text x="339.00" y="259.00" font-size="7.7" text-anchor="middle" fill="#222" stroke="#222" stroke-width="0.12">0</text>
<text x="351.20" y="259.00" font-size="7.7" text-anchor="middle" fill="#222" stroke="#222" stroke-width="0.12">1</text>
<text x="363.40" y="259.00" font-size="7.7" text-anchor="middle" fill="#222" stroke="#222" stroke-width="0.12">0</text>
<path d="M320.4,264.3 L320.4,190 L328.9,190" fill="none" stroke="#444" stroke-width="0.7"/>
<path d="M327.9,188.4 L330.9,190 L327.9,191.6Z" fill="#222"/>
<text x="323.40" y="186.00" font-size="7.4" text-anchor="middle" fill="#222" stroke="#222" stroke-width="0.12">TSS</text>
<text transform="translate(243.4,221.5) rotate(-90)" font-size="8.2" text-anchor="middle" fill="#222" stroke="#222" stroke-width="0.2" textLength="71" lengthAdjust="spacingAndGlyphs">Region-gene associations</text>
<text x="321.00" y="314.10" font-size="8.9" text-anchor="middle" fill="#222" textLength="58.6" lengthAdjust="spacingAndGlyphs" stroke="#222" stroke-width="0.3">Distance to TSS (kb)</text>
<text x="421.70" y="172.20" font-size="9.1" text-anchor="start" fill="#45ade4" textLength="82.2" lengthAdjust="spacingAndGlyphs" stroke="#45ade4" stroke-width="0.15">SAGA&#8211;SPT20 ChIP</text>
<line x1="413.80" y1="179.20" x2="413.80" y2="265.30" stroke="#111" stroke-width="1"/>
<line x1="410.50" y1="264.80" x2="413.80" y2="264.80" stroke="#111" stroke-width="0.9"/>
<text x="407.70" y="267.10" font-size="6.8" text-anchor="end" fill="#222" textLength="11.42" lengthAdjust="spacingAndGlyphs" stroke="#222" stroke-width="0.12">0%</text>
<line x1="410.50" y1="254.00" x2="413.80" y2="254.00" stroke="#111" stroke-width="0.9"/>
<text x="407.70" y="256.30" font-size="6.8" text-anchor="end" fill="#222" textLength="15.8" lengthAdjust="spacingAndGlyphs" stroke="#222" stroke-width="0.12">10%</text>
<line x1="410.50" y1="243.20" x2="413.80" y2="243.20" stroke="#111" stroke-width="0.9"/>
<text x="407.70" y="245.50" font-size="6.8" text-anchor="end" fill="#222" textLength="15.8" lengthAdjust="spacingAndGlyphs" stroke="#222" stroke-width="0.12">20%</text>
<line x1="410.50" y1="232.40" x2="413.80" y2="232.40" stroke="#111" stroke-width="0.9"/>
<text x="407.70" y="234.70" font-size="6.8" text-anchor="end" fill="#222" textLength="15.8" lengthAdjust="spacingAndGlyphs" stroke="#222" stroke-width="0.12">30%</text>
<line x1="410.50" y1="221.60" x2="413.80" y2="221.60" stroke="#111" stroke-width="0.9"/>
<text x="407.70" y="223.90" font-size="6.8" text-anchor="end" fill="#222" textLength="15.8" lengthAdjust="spacingAndGlyphs" stroke="#222" stroke-width="0.12">40%</text>
<line x1="410.50" y1="210.80" x2="413.80" y2="210.80" stroke="#111" stroke-width="0.9"/>
<text x="407.70" y="213.10" font-size="6.8" text-anchor="end" fill="#222" textLength="15.8" lengthAdjust="spacingAndGlyphs" stroke="#222" stroke-width="0.12">50%</text>
<line x1="410.50" y1="200.00" x2="413.80" y2="200.00" stroke="#111" stroke-width="0.9"/>
<text x="407.70" y="202.30" font-size="6.8" text-anchor="end" fill="#222" textLength="15.8" lengthAdjust="spacingAndGlyphs" stroke="#222" stroke-width="0.12">60%</text>
<line x1="410.50" y1="189.20" x2="413.80" y2="189.20" stroke="#111" stroke-width="0.9"/>
<text x="407.70" y="191.50" font-size="6.8" text-anchor="end" fill="#222" textLength="15.8" lengthAdjust="spacingAndGlyphs" stroke="#222" stroke-width="0.12">70%</text>
<line x1="413.80" y1="264.80" x2="511.78" y2="264.80" stroke="#111" stroke-width="1"/>
<line x1="419.60" y1="264.80" x2="419.60" y2="268.00" stroke="#111" stroke-width="0.9"/>
<rect x="416.10" y="262.72" width="7.00" height="2.08" fill="#0f4c81"/>
<text transform="translate(421.60,273.70) rotate(-45)" font-size="7.8" text-anchor="end" fill="#222" stroke="#222" stroke-width="0.12">&lt;&#8722;500</text>
<line x1="431.84" y1="264.80" x2="431.84" y2="268.00" stroke="#111" stroke-width="0.9"/>
<rect x="428.34" y="256.49" width="7.00" height="8.31" fill="#0f4c81"/>
<text transform="translate(433.84,273.70) rotate(-45)" font-size="7.8" text-anchor="end" fill="#222" stroke="#222" stroke-width="0.12">&#8722;500 to &#8722;50</text>
<line x1="444.08" y1="264.80" x2="444.08" y2="268.00" stroke="#111" stroke-width="0.9"/>
<rect x="440.58" y="262.72" width="7.00" height="2.08" fill="#0f4c81"/>
<text transform="translate(446.08,273.70) rotate(-45)" font-size="7.8" text-anchor="end" fill="#222" stroke="#222" stroke-width="0.12">&#8722;50 to &#8722;5</text>
<line x1="456.32" y1="264.80" x2="456.32" y2="268.00" stroke="#111" stroke-width="0.9"/>
<rect x="452.82" y="200.42" width="7.00" height="64.38" fill="#0f4c81"/>
<text transform="translate(458.32,273.70) rotate(-45)" font-size="7.8" text-anchor="end" fill="#222" stroke="#222" stroke-width="0.12">&#8722;5 to 0</text>
<line x1="468.56" y1="264.80" x2="468.56" y2="268.00" stroke="#111" stroke-width="0.9"/>
<rect x="465.06" y="238.84" width="7.00" height="25.96" fill="#0f4c81"/>
<text transform="translate(470.56,273.70) rotate(-45)" font-size="7.8" text-anchor="end" fill="#222" stroke="#222" stroke-width="0.12">0 to 5</text>
<line x1="480.80" y1="264.80" x2="480.80" y2="268.00" stroke="#111" stroke-width="0.9"/>
<rect x="477.30" y="263.76" width="7.00" height="1.04" fill="#0f4c81"/>
<text transform="translate(482.80,273.70) rotate(-45)" font-size="7.8" text-anchor="end" fill="#222" stroke="#222" stroke-width="0.12">5 to 50</text>
<line x1="493.04" y1="264.80" x2="493.04" y2="268.00" stroke="#111" stroke-width="0.9"/>
<rect x="489.54" y="260.65" width="7.00" height="4.15" fill="#0f4c81"/>
<text transform="translate(495.04,273.70) rotate(-45)" font-size="7.8" text-anchor="end" fill="#222" stroke="#222" stroke-width="0.12">50 to 500</text>
<line x1="505.28" y1="264.80" x2="505.28" y2="268.00" stroke="#111" stroke-width="0.9"/>
<text transform="translate(507.28,273.70) rotate(-45)" font-size="7.8" text-anchor="end" fill="#222" stroke="#222" stroke-width="0.12">&gt;500</text>
<text x="419.60" y="258.80" font-size="7.7" text-anchor="middle" fill="#222" stroke="#222" stroke-width="0.12">2</text>
<text x="431.80" y="252.70" font-size="7.7" text-anchor="middle" fill="#222" stroke="#222" stroke-width="0.12">8</text>
<text x="444.00" y="258.80" font-size="7.7" text-anchor="middle" fill="#222" stroke="#222" stroke-width="0.12">2</text>
<text x="456.40" y="196.00" font-size="7.7" text-anchor="middle" fill="#222" stroke="#222" stroke-width="0.12">62</text>
<text x="468.50" y="236.00" font-size="7.7" text-anchor="middle" fill="#222" stroke="#222" stroke-width="0.12">25</text>
<text x="480.80" y="259.00" font-size="7.7" text-anchor="middle" fill="#222" stroke="#222" stroke-width="0.12">1</text>
<text x="493.00" y="257.60" font-size="7.7" text-anchor="middle" fill="#222" stroke="#222" stroke-width="0.12">4</text>
<text x="505.30" y="259.00" font-size="7.7" text-anchor="middle" fill="#222" stroke="#222" stroke-width="0.12">0</text>
<path d="M462.5,264.8 L462.5,190 L471.0,190" fill="none" stroke="#444" stroke-width="0.7"/>
<path d="M470.0,188.4 L473.0,190 L470.0,191.6Z" fill="#222"/>
<text x="465.50" y="186.00" font-size="7.4" text-anchor="middle" fill="#222" stroke="#222" stroke-width="0.12">TSS</text>
<text transform="translate(385.6,221.5) rotate(-90)" font-size="8.2" text-anchor="middle" fill="#222" stroke="#222" stroke-width="0.2" textLength="71" lengthAdjust="spacingAndGlyphs">Region-gene associations</text>
<text x="462.00" y="314.10" font-size="8.9" text-anchor="middle" fill="#222" textLength="58.6" lengthAdjust="spacingAndGlyphs" stroke="#222" stroke-width="0.3">Distance to TSS (kb)</text>
<text x="7.40" y="345.80" font-size="10.2" text-anchor="start" fill="#000" font-weight="bold">D</text>
<line x1="23.10" y1="358.50" x2="261.00" y2="358.50" stroke="#111" stroke-width="1.1"/>
<line x1="31.10" y1="356.30" x2="31.10" y2="358.50" stroke="#111" stroke-width="0.9"/>
<line x1="47.40" y1="356.30" x2="47.40" y2="358.50" stroke="#111" stroke-width="0.9"/>
<line x1="63.70" y1="356.30" x2="63.70" y2="358.50" stroke="#111" stroke-width="0.9"/>
<line x1="80.00" y1="356.30" x2="80.00" y2="358.50" stroke="#111" stroke-width="0.9"/>
<line x1="96.30" y1="356.30" x2="96.30" y2="358.50" stroke="#111" stroke-width="0.9"/>
<line x1="112.60" y1="356.30" x2="112.60" y2="358.50" stroke="#111" stroke-width="0.9"/>
<line x1="128.90" y1="356.30" x2="128.90" y2="358.50" stroke="#111" stroke-width="0.9"/>
<line x1="145.20" y1="356.30" x2="145.20" y2="358.50" stroke="#111" stroke-width="0.9"/>
<line x1="161.50" y1="356.30" x2="161.50" y2="358.50" stroke="#111" stroke-width="0.9"/>
<line x1="177.80" y1="356.30" x2="177.80" y2="358.50" stroke="#111" stroke-width="0.9"/>
<line x1="194.10" y1="356.30" x2="194.10" y2="358.50" stroke="#111" stroke-width="0.9"/>
<line x1="210.40" y1="356.30" x2="210.40" y2="358.50" stroke="#111" stroke-width="0.9"/>
<line x1="226.70" y1="356.30" x2="226.70" y2="358.50" stroke="#111" stroke-width="0.9"/>
<line x1="243.00" y1="356.30" x2="243.00" y2="358.50" stroke="#111" stroke-width="0.9"/>
<line x1="259.30" y1="356.30" x2="259.30" y2="358.50" stroke="#111" stroke-width="0.9"/>
<text x="47.40" y="353.50" font-size="7.1" text-anchor="middle" fill="#222" stroke="#222" stroke-width="0.12">3,575 kb</text>
<text x="80.00" y="353.50" font-size="7.1" text-anchor="middle" fill="#222" stroke="#222" stroke-width="0.12">3,576 kb</text>
<text x="112.60" y="353.50" font-size="7.1" text-anchor="middle" fill="#222" stroke="#222" stroke-width="0.12">3,577 kb</text>
<text x="145.20" y="353.50" font-size="7.1" text-anchor="middle" fill="#222" stroke="#222" stroke-width="0.12">3,578 kb</text>
<text x="177.80" y="353.50" font-size="7.1" text-anchor="middle" fill="#222" stroke="#222" stroke-width="0.12">3,579 kb</text>
<text x="210.40" y="353.50" font-size="7.1" text-anchor="middle" fill="#222" stroke="#222" stroke-width="0.12">3,580 kb</text>
<text x="243.00" y="353.50" font-size="7.1" text-anchor="middle" fill="#222" stroke="#222" stroke-width="0.12">3,581 kb</text>
<path d="M20.2,366.9 L22.4,366.9 L22.4,378.5 L20.2,378.5" fill="none" stroke="#111" stroke-width="1"/>
<text x="18.00" y="369.50" font-size="7.1" text-anchor="end" fill="#222" stroke="#222" stroke-width="0.12">2.3</text>
<text x="18.00" y="381.40" font-size="7.1" text-anchor="end" fill="#222" stroke="#222" stroke-width="0.12">0</text>
<path d="M23.5,378.5 L23.5,377.55 L24.2,377.54 L24.9,377.85 L25.6,377.81 L26.3,377.55 L27.0,377.63 L27.7,377.55 L28.4,377.77 L29.1,377.88 L29.8,377.80 L30.5,377.56 L31.2,377.81 L31.9,377.77 L32.6,377.74 L33.3,377.74 L34.0,377.74 L34.7,377.50 L35.4,377.87 L36.1,377.94 L36.8,377.49 L37.5,377.52 L38.2,377.47 L38.9,377.73 L39.6,377.48 L40.3,377.49 L41.0,377.83 L41.7,377.58 L42.4,377.54 L43.1,377.62 L43.8,377.69 L44.5,377.80 L45.2,377.63 L45.9,377.14 L46.6,376.62 L47.3,375.30 L48.0,374.48 L48.7,373.17 L49.4,372.63 L50.1,371.14 L50.8,370.42 L51.5,369.45 L52.2,368.62 L52.9,367.78 L53.6,367.27 L54.3,367.72 L55.0,367.39 L55.7,367.85 L56.4,367.88 L57.1,367.77 L57.8,367.96 L58.5,368.19 L59.2,368.06 L59.9,368.44 L60.6,368.79 L61.3,369.22 L62.0,369.48 L62.7,370.34 L63.4,370.79 L64.1,371.69 L64.8,372.48 L65.5,372.98 L66.2,373.51 L66.9,374.60 L67.6,374.88 L68.3,375.46 L69.0,376.18 L69.7,376.83 L70.4,377.68 L71.1,377.44 L71.8,377.48 L72.5,377.91 L73.2,377.81 L73.9,377.81 L74.6,377.68 L75.3,377.73 L76.0,377.70 L76.7,377.55 L77.4,377.93 L78.1,377.90 L78.8,377.86 L79.5,377.86 L80.2,377.89 L80.9,377.43 L81.6,377.49 L82.3,377.87 L83.0,377.66 L83.7,377.75 L84.4,377.75 L85.1,377.73 L85.8,377.58 L86.5,377.60 L87.2,377.72 L87.9,377.80 L88.6,377.73 L89.3,377.83 L90.0,377.61 L90.7,377.52 L91.4,377.69 L92.1,377.85 L92.8,377.79 L93.5,377.69 L94.2,377.57 L94.9,377.47 L95.6,377.68 L96.3,377.45 L97.0,377.55 L97.7,377.64 L98.4,377.67 L99.1,377.61 L99.8,377.49 L100.5,377.65 L101.2,377.51 L101.9,377.64 L102.6,377.76 L103.3,377.61 L104.0,377.54 L104.7,377.87 L105.4,377.69 L106.1,377.70 L106.8,377.48 L107.5,377.46 L108.2,377.74 L108.9,377.50 L109.6,377.56 L110.3,377.82 L111.0,377.73 L111.7,377.89 L112.4,377.58 L113.1,377.66 L113.8,377.56 L114.5,377.61 L115.2,377.68 L115.9,377.66 L116.6,377.74 L117.3,377.95 L118.0,377.74 L118.7,378.00 L119.4,377.95 L120.1,377.68 L120.8,377.98 L121.5,377.95 L122.2,377.93 L122.9,377.57 L123.6,377.88 L124.3,377.94 L125.0,377.54 L125.7,377.87 L126.4,377.50 L127.1,377.57 L127.8,377.47 L128.5,377.39 L129.2,377.57 L129.9,377.44 L130.6,377.84 L131.3,377.43 L132.0,377.55 L132.7,377.42 L133.4,377.76 L134.1,377.37 L134.8,377.24 L135.5,377.75 L136.2,377.58 L136.9,377.42 L137.6,377.25 L138.3,377.59 L139.0,377.61 L139.7,377.56 L140.4,377.34 L141.1,377.26 L141.8,377.49 L142.5,377.52 L143.2,377.51 L143.9,377.55 L144.6,377.52 L145.3,377.73 L146.0,377.49 L146.7,377.22 L147.4,377.56 L148.1,377.38 L148.8,377.73 L149.5,377.43 L150.2,377.41 L150.9,377.47 L151.6,377.56 L152.3,377.59 L153.0,377.52 L153.7,377.39 L154.4,377.80 L155.1,377.84 L155.8,377.51 L156.5,377.43 L157.2,377.65 L157.9,377.70 L158.6,377.57 L159.3,377.84 L160.0,377.81 L160.7,377.84 L161.4,377.65 L162.1,377.78 L162.8,377.82 L163.5,377.59 L164.2,377.46 L164.9,377.78 L165.6,377.57 L166.3,377.71 L167.0,377.49 L167.7,377.62 L168.4,377.78 L169.1,377.80 L169.8,377.89 L170.5,377.66 L171.2,377.70 L171.9,377.81 L172.6,377.71 L173.3,377.73 L174.0,377.49 L174.7,377.81 L175.4,377.36 L176.1,377.63 L176.8,377.56 L177.5,377.63 L178.2,377.43 L178.9,377.43 L179.6,378.50 L180.3,378.50 L181.0,378.50 L181.7,378.50 L182.4,377.68 L183.1,377.51 L183.8,377.40 L184.5,377.66 L185.2,377.79 L185.9,377.79 L186.6,377.56 L187.3,377.59 L188.0,377.45 L188.7,377.51 L189.4,377.82 L190.1,377.85 L190.8,377.82 L191.5,377.86 L192.2,377.63 L192.9,377.56 L193.6,377.55 L194.3,377.85 L195.0,377.59 L195.7,377.84 L196.4,377.80 L197.1,377.67 L197.8,377.96 L198.5,377.96 L199.2,377.65 L199.9,377.89 L200.6,377.86 L201.3,377.76 L202.0,377.72 L202.7,378.00 L203.4,377.86 L204.1,377.81 L204.8,377.79 L205.5,377.91 L206.2,377.74 L206.9,377.58 L207.6,377.82 L208.3,377.75 L209.0,377.94 L209.7,377.87 L210.4,377.69 L211.1,377.93 L211.8,377.59 L212.5,377.58 L213.2,377.94 L213.9,377.56 L214.6,377.81 L215.3,377.63 L216.0,377.63 L216.7,377.84 L217.4,377.66 L218.1,377.67 L218.8,377.60 L219.5,377.84 L220.2,377.62 L220.9,377.52 L221.6,377.65 L222.3,377.71 L223.0,377.90 L223.7,377.72 L224.4,377.79 L225.1,377.61 L225.8,377.63 L226.5,377.68 L227.2,377.86 L227.9,377.64 L228.6,377.64 L229.3,377.86 L230.0,377.51 L230.7,377.62 L231.4,377.88 L232.1,377.48 L232.8,377.87 L233.5,378.50 L234.2,378.50 L234.9,378.50 L235.6,378.50 L236.3,378.50 L237.0,378.50 L237.7,377.77 L238.4,377.83 L239.1,377.89 L239.8,377.56 L240.5,377.54 L241.2,377.64 L241.9,377.54 L242.6,377.73 L243.3,377.78 L244.0,377.71 L244.7,377.46 L245.4,377.88 L246.1,377.65 L246.8,377.78 L247.5,377.51 L248.2,377.72 L248.9,377.73 L249.6,377.69 L250.3,377.61 L251.0,377.49 L251.7,377.71 L252.4,377.45 L253.1,377.83 L253.8,377.74 L254.5,377.83 L255.2,377.82 L255.9,377.47 L256.6,377.49 L257.3,377.78 L258.0,377.78 L258.7,377.65 L259.4,377.47 L260.1,377.43 L260.8,377.47 L261.5,377.55 L261.5,378.5 Z" fill="#167d4a"/>
<text x="262.00" y="373.10" font-size="7.6" text-anchor="end" fill="#222" stroke="#222" stroke-width="0.12">ZZZ3</text>
<path d="M20.2,386.4 L22.4,386.4 L22.4,397.7 L20.2,397.7" fill="none" stroke="#111" stroke-width="1"/>
<text x="18.00" y="389.00" font-size="7.1" text-anchor="end" fill="#222" stroke="#222" stroke-width="0.12">2.3</text>
<text x="18.00" y="400.60" font-size="7.1" text-anchor="end" fill="#222" stroke="#222" stroke-width="0.12">0</text>
<path d="M23.5,397.7 L23.5,397.13 L24.2,396.96 L24.9,397.08 L25.6,396.86 L26.3,396.82 L27.0,397.06 L27.7,397.02 L28.4,396.65 L29.1,397.16 L29.8,396.61 L30.5,396.54 L31.2,396.49 L31.9,396.88 L32.6,396.75 L33.3,396.72 L34.0,396.67 L34.7,396.41 L35.4,396.61 L36.1,396.90 L36.8,396.46 L37.5,396.74 L38.2,396.64 L38.9,396.53 L39.6,397.10 L40.3,396.46 L41.0,396.51 L41.7,396.60 L42.4,396.53 L43.1,396.54 L43.8,396.71 L44.5,396.40 L45.2,396.75 L45.9,396.33 L46.6,396.17 L47.3,396.29 L48.0,396.15 L48.7,395.78 L49.4,395.78 L50.1,396.33 L50.8,395.76 L51.5,395.84 L52.2,396.27 L52.9,396.06 L53.6,396.19 L54.3,396.35 L55.0,396.02 L55.7,395.74 L56.4,396.26 L57.1,395.86 L57.8,396.03 L58.5,396.55 L59.2,396.05 L59.9,396.34 L60.6,396.16 L61.3,396.41 L62.0,396.47 L62.7,396.87 L63.4,396.62 L64.1,396.62 L64.8,396.67 L65.5,396.94 L66.2,397.70 L66.9,397.70 L67.6,397.70 L68.3,397.70 L69.0,397.70 L69.7,397.70 L70.4,397.70 L71.1,397.70 L71.8,397.70 L72.5,397.70 L73.2,397.70 L73.9,397.70 L74.6,397.70 L75.3,397.70 L76.0,397.70 L76.7,397.70 L77.4,397.10 L78.1,396.64 L78.8,396.71 L79.5,396.92 L80.2,396.88 L80.9,396.73 L81.6,396.64 L82.3,396.91 L83.0,397.05 L83.7,396.85 L84.4,396.35 L85.1,396.83 L85.8,396.54 L86.5,396.72 L87.2,396.67 L87.9,396.67 L88.6,396.45 L89.3,396.60 L90.0,396.68 L90.7,396.62 L91.4,396.57 L92.1,396.32 L92.8,396.67 L93.5,396.71 L94.2,396.37 L94.9,396.41 L95.6,396.17 L96.3,396.70 L97.0,396.42 L97.7,396.43 L98.4,396.73 L99.1,395.99 L99.8,396.59 L100.5,396.69 L101.2,396.39 L101.9,396.65 L102.6,396.29 L103.3,396.51 L104.0,396.69 L104.7,396.76 L105.4,396.22 L106.1,396.59 L106.8,396.18 L107.5,396.44 L108.2,396.07 L108.9,396.59 L109.6,396.63 L110.3,396.62 L111.0,396.19 L111.7,396.34 L112.4,396.57 L113.1,396.78 L113.8,396.31 L114.5,396.09 L115.2,396.39 L115.9,396.87 L116.6,396.85 L117.3,396.81 L118.0,396.75 L118.7,396.86 L119.4,396.85 L120.1,396.38 L120.8,396.17 L121.5,396.73 L122.2,396.11 L122.9,396.50 L123.6,396.23 L124.3,396.14 L125.0,396.11 L125.7,396.83 L126.4,396.61 L127.1,396.37 L127.8,396.09 L128.5,396.77 L129.2,396.60 L129.9,396.15 L130.6,396.74 L131.3,396.51 L132.0,396.55 L132.7,396.27 L133.4,396.07 L134.1,396.67 L134.8,396.21 L135.5,396.21 L136.2,396.12 L136.9,396.34 L137.6,396.04 L138.3,396.49 L139.0,396.44 L139.7,396.59 L140.4,396.14 L141.1,396.37 L141.8,396.54 L142.5,396.61 L143.2,396.17 L143.9,396.26 L144.6,396.17 L145.3,396.42 L146.0,396.34 L146.7,396.60 L147.4,396.15 L148.1,396.69 L148.8,396.33 L149.5,396.10 L150.2,396.16 L150.9,396.63 L151.6,396.53 L152.3,396.06 L153.0,396.23 L153.7,396.05 L154.4,396.06 L155.1,396.41 L155.8,396.06 L156.5,396.20 L157.2,396.53 L157.9,396.51 L158.6,396.76 L159.3,396.50 L160.0,396.07 L160.7,396.76 L161.4,396.40 L162.1,396.77 L162.8,396.81 L163.5,396.36 L164.2,396.70 L164.9,396.86 L165.6,396.79 L166.3,396.40 L167.0,396.46 L167.7,396.93 L168.4,396.76 L169.1,396.18 L169.8,396.79 L170.5,396.52 L171.2,396.65 L171.9,396.37 L172.6,396.52 L173.3,396.38 L174.0,396.59 L174.7,396.88 L175.4,396.90 L176.1,396.98 L176.8,396.40 L177.5,396.98 L178.2,397.06 L178.9,396.31 L179.6,396.94 L180.3,396.38 L181.0,397.02 L181.7,396.71 L182.4,396.90 L183.1,396.41 L183.8,396.57 L184.5,396.54 L185.2,396.44 L185.9,396.34 L186.6,396.76 L187.3,396.54 L188.0,396.66 L188.7,396.92 L189.4,396.34 L190.1,396.52 L190.8,396.34 L191.5,396.82 L192.2,396.55 L192.9,396.60 L193.6,396.38 L194.3,396.90 L195.0,396.67 L195.7,396.56 L196.4,396.88 L197.1,396.49 L197.8,396.33 L198.5,396.58 L199.2,396.39 L199.9,396.42 L200.6,396.72 L201.3,396.61 L202.0,396.08 L202.7,396.60 L203.4,396.52 L204.1,396.79 L204.8,396.68 L205.5,396.71 L206.2,396.09 L206.9,396.25 L207.6,396.12 L208.3,396.03 L209.0,396.32 L209.7,396.06 L210.4,396.37 L211.1,396.47 L211.8,396.05 L212.5,396.08 L213.2,396.05 L213.9,396.42 L214.6,396.19 L215.3,396.48 L216.0,396.01 L216.7,396.08 L217.4,396.58 L218.1,396.07 L218.8,396.67 L219.5,396.74 L220.2,396.24 L220.9,396.59 L221.6,396.41 L222.3,396.31 L223.0,396.79 L223.7,396.23 L224.4,396.61 L225.1,396.48 L225.8,396.56 L226.5,396.24 L227.2,396.24 L227.9,396.61 L228.6,396.75 L229.3,396.60 L230.0,396.51 L230.7,396.78 L231.4,396.72 L232.1,396.23 L232.8,396.28 L233.5,396.06 L234.2,396.06 L234.9,396.15 L235.6,396.55 L236.3,396.72 L237.0,396.60 L237.7,396.48 L238.4,396.43 L239.1,396.42 L239.8,396.57 L240.5,396.18 L241.2,396.63 L241.9,396.49 L242.6,396.15 L243.3,396.22 L244.0,396.63 L244.7,396.67 L245.4,396.22 L246.1,396.86 L246.8,396.77 L247.5,396.45 L248.2,396.45 L248.9,396.74 L249.6,396.84 L250.3,396.72 L251.0,396.26 L251.7,396.51 L252.4,396.10 L253.1,396.26 L253.8,396.10 L254.5,396.86 L255.2,396.74 L255.9,396.88 L256.6,396.55 L257.3,396.62 L258.0,396.85 L258.7,396.46 L259.4,396.82 L260.1,396.65 L260.8,396.70 L261.5,396.26 L261.5,397.7 Z" fill="#1de3ee"/>
<text x="262.00" y="391.20" font-size="7.6" text-anchor="end" fill="#222" stroke="#222" stroke-width="0.12">SPT20</text>
<line x1="56.20" y1="403.60" x2="240.40" y2="403.60" stroke="#b4b4e4" stroke-width="1.0"/>
<rect x="60.70" y="403.00" width="1.00" height="1.20" fill="#7070c8"/>
<rect x="67.77" y="403.00" width="1.00" height="1.20" fill="#7070c8"/>
<rect x="74.84" y="403.00" width="1.00" height="1.20" fill="#7070c8"/>
<rect x="81.91" y="403.00" width="1.00" height="1.20" fill="#7070c8"/>
<rect x="88.98" y="403.00" width="1.00" height="1.20" fill="#7070c8"/>
<rect x="96.05" y="403.00" width="1.00" height="1.20" fill="#7070c8"/>
<rect x="103.12" y="403.00" width="1.00" height="1.20" fill="#7070c8"/>
<rect x="110.19" y="403.00" width="1.00" height="1.20" fill="#7070c8"/>
<rect x="117.26" y="403.00" width="1.00" height="1.20" fill="#7070c8"/>
<rect x="124.33" y="403.00" width="1.00" height="1.20" fill="#7070c8"/>
<rect x="131.40" y="403.00" width="1.00" height="1.20" fill="#7070c8"/>
<rect x="138.47" y="403.00" width="1.00" height="1.20" fill="#7070c8"/>
<rect x="145.54" y="403.00" width="1.00" height="1.20" fill="#7070c8"/>
<rect x="152.61" y="403.00" width="1.00" height="1.20" fill="#7070c8"/>
<rect x="159.68" y="403.00" width="1.00" height="1.20" fill="#7070c8"/>
<rect x="166.75" y="403.00" width="1.00" height="1.20" fill="#7070c8"/>
<rect x="173.82" y="403.00" width="1.00" height="1.20" fill="#7070c8"/>
<rect x="180.89" y="403.00" width="1.00" height="1.20" fill="#7070c8"/>
<rect x="187.96" y="403.00" width="1.00" height="1.20" fill="#7070c8"/>
<rect x="195.03" y="403.00" width="1.00" height="1.20" fill="#7070c8"/>
<rect x="202.10" y="403.00" width="1.00" height="1.20" fill="#7070c8"/>
<rect x="209.17" y="403.00" width="1.00" height="1.20" fill="#7070c8"/>
<rect x="216.24" y="403.00" width="1.00" height="1.20" fill="#7070c8"/>
<rect x="223.31" y="403.00" width="1.00" height="1.20" fill="#7070c8"/>
<rect x="230.38" y="403.00" width="1.00" height="1.20" fill="#7070c8"/>
<rect x="237.45" y="403.00" width="1.00" height="1.20" fill="#7070c8"/>
<rect x="56.20" y="402.80" width="3.00" height="1.60" fill="#10109a"/>
<rect x="67.00" y="402.00" width="2.80" height="3.20" fill="#10109a"/>
<rect x="73.80" y="402.00" width="2.20" height="3.20" fill="#10109a"/>
<rect x="95.60" y="401.80" width="4.80" height="3.60" fill="#10109a"/>
<rect x="136.20" y="402.00" width="2.60" height="3.20" fill="#10109a"/>
<rect x="213.50" y="401.80" width="5.00" height="3.60" fill="#10109a"/>
<rect x="238.50" y="402.30" width="2.50" height="2.60" fill="#10109a"/>
<path d="M238.4,401.3 L241.6,403.6 L238.4,405.9Z" fill="#10109a"/>
<text x="138.10" y="413.80" font-size="7.9" text-anchor="start" fill="#3f72aa" font-style="italic" stroke="#3f72aa" stroke-width="0.12">RPS7</text>
<line x1="24.50" y1="430.50" x2="261.00" y2="430.50" stroke="#111" stroke-width="1.1"/>
<line x1="24.90" y1="428.30" x2="24.90" y2="430.50" stroke="#111" stroke-width="0.9"/>
<line x1="58.00" y1="428.30" x2="58.00" y2="430.50" stroke="#111" stroke-width="0.9"/>
<line x1="91.10" y1="428.30" x2="91.10" y2="430.50" stroke="#111" stroke-width="0.9"/>
<line x1="124.20" y1="428.30" x2="124.20" y2="430.50" stroke="#111" stroke-width="0.9"/>
<line x1="157.30" y1="428.30" x2="157.30" y2="430.50" stroke="#111" stroke-width="0.9"/>
<line x1="190.40" y1="428.30" x2="190.40" y2="430.50" stroke="#111" stroke-width="0.9"/>
<line x1="223.50" y1="428.30" x2="223.50" y2="430.50" stroke="#111" stroke-width="0.9"/>
<line x1="256.60" y1="428.30" x2="256.60" y2="430.50" stroke="#111" stroke-width="0.9"/>
<text x="58.40" y="425.90" font-size="7.1" text-anchor="middle" fill="#222" stroke="#222" stroke-width="0.12">5,225 kb</text>
<text x="124.60" y="425.90" font-size="7.1" text-anchor="middle" fill="#222" stroke="#222" stroke-width="0.12">5,226 kb</text>
<text x="190.60" y="425.90" font-size="7.1" text-anchor="middle" fill="#222" stroke="#222" stroke-width="0.12">5,227 kb</text>
<text x="256.40" y="425.90" font-size="7.1" text-anchor="middle" fill="#222" stroke="#222" stroke-width="0.12">5,228 kb</text>
<path d="M20.1,434.5 L22.3,434.5 L22.3,446.3 L20.1,446.3" fill="none" stroke="#111" stroke-width="1"/>
<text x="17.90" y="437.10" font-size="7.1" text-anchor="end" fill="#222" stroke="#222" stroke-width="0.12">2.3</text>
<text x="17.90" y="449.20" font-size="7.1" text-anchor="end" fill="#222" stroke="#222" stroke-width="0.12">0</text>
<path d="M23.5,446.3 L23.5,445.73 L24.2,445.79 L24.9,445.86 L25.6,445.73 L26.3,445.65 L27.0,445.64 L27.7,445.55 L28.4,445.59 L29.1,445.79 L29.8,445.83 L30.5,445.61 L31.2,445.60 L31.9,445.70 L32.6,445.58 L33.3,445.68 L34.0,445.78 L34.7,445.82 L35.4,445.87 L36.1,445.65 L36.8,445.56 L37.5,445.55 L38.2,445.71 L38.9,445.64 L39.6,445.55 L40.3,445.53 L41.0,445.50 L41.7,445.49 L42.4,445.33 L43.1,445.43 L43.8,445.32 L44.5,444.99 L45.2,444.80 L45.9,445.07 L46.6,445.15 L47.3,445.18 L48.0,445.12 L48.7,444.91 L49.4,445.11 L50.1,444.81 L50.8,445.29 L51.5,445.19 L52.2,445.06 L52.9,445.13 L53.6,444.86 L54.3,444.87 L55.0,444.81 L55.7,445.00 L56.4,445.35 L57.1,445.02 L57.8,445.03 L58.5,445.07 L59.2,445.19 L59.9,444.93 L60.6,444.81 L61.3,445.29 L62.0,444.95 L62.7,445.13 L63.4,445.04 L64.1,444.81 L64.8,444.77 L65.5,444.95 L66.2,445.22 L66.9,444.78 L67.6,445.23 L68.3,445.10 L69.0,444.83 L69.7,445.14 L70.4,445.16 L71.1,444.75 L71.8,444.76 L72.5,445.13 L73.2,445.08 L73.9,445.15 L74.6,445.24 L75.3,445.16 L76.0,444.72 L76.7,445.26 L77.4,445.17 L78.1,445.19 L78.8,445.26 L79.5,444.99 L80.2,444.85 L80.9,444.77 L81.6,444.88 L82.3,444.75 L83.0,445.22 L83.7,445.04 L84.4,444.61 L85.1,445.13 L85.8,444.99 L86.5,444.85 L87.2,444.96 L87.9,444.77 L88.6,445.06 L89.3,444.93 L90.0,444.48 L90.7,444.95 L91.4,444.47 L92.1,444.89 L92.8,444.38 L93.5,444.56 L94.2,444.56 L94.9,444.84 L95.6,444.88 L96.3,444.44 L97.0,444.77 L97.7,444.74 L98.4,444.35 L99.1,444.30 L99.8,444.78 L100.5,444.23 L101.2,444.50 L101.9,444.61 L102.6,444.79 L103.3,444.63 L104.0,444.29 L104.7,444.73 L105.4,444.83 L106.1,444.83 L106.8,444.86 L107.5,444.74 L108.2,444.42 L108.9,444.93 L109.6,444.88 L110.3,444.44 L111.0,444.43 L111.7,444.45 L112.4,444.91 L113.1,444.86 L113.8,444.52 L114.5,444.82 L115.2,444.71 L115.9,444.96 L116.6,445.15 L117.3,444.98 L118.0,444.75 L118.7,444.75 L119.4,444.89 L120.1,444.97 L120.8,444.95 L121.5,445.02 L122.2,444.98 L122.9,444.82 L123.6,445.22 L124.3,445.00 L125.0,444.82 L125.7,444.88 L126.4,445.30 L127.1,444.85 L127.8,444.94 L128.5,445.36 L129.2,445.32 L129.9,445.38 L130.6,445.47 L131.3,444.92 L132.0,445.26 L132.7,444.98 L133.4,445.44 L134.1,445.50 L134.8,444.99 L135.5,445.04 L136.2,444.92 L136.9,445.11 L137.6,445.21 L138.3,445.07 L139.0,445.47 L139.7,445.21 L140.4,445.27 L141.1,445.45 L141.8,445.18 L142.5,445.34 L143.2,445.24 L143.9,445.32 L144.6,445.35 L145.3,445.33 L146.0,445.19 L146.7,444.96 L147.4,444.99 L148.1,445.04 L148.8,445.06 L149.5,445.39 L150.2,444.98 L150.9,445.40 L151.6,445.49 L152.3,445.27 L153.0,445.13 L153.7,445.37 L154.4,445.19 L155.1,445.41 L155.8,445.00 L156.5,445.31 L157.2,445.30 L157.9,445.27 L158.6,445.06 L159.3,445.00 L160.0,445.27 L160.7,445.33 L161.4,445.22 L162.1,445.56 L162.8,445.34 L163.5,445.09 L164.2,446.30 L164.9,446.30 L165.6,446.30 L166.3,445.37 L167.0,445.01 L167.7,445.38 L168.4,445.47 L169.1,445.27 L169.8,445.07 L170.5,445.34 L171.2,445.08 L171.9,445.17 L172.6,445.38 L173.3,445.42 L174.0,445.30 L174.7,445.36 L175.4,445.38 L176.1,445.21 L176.8,445.07 L177.5,445.25 L178.2,445.51 L178.9,445.47 L179.6,445.38 L180.3,445.23 L181.0,445.52 L181.7,445.55 L182.4,445.41 L183.1,445.43 L183.8,445.58 L184.5,445.28 L185.2,445.05 L185.9,445.28 L186.6,445.16 L187.3,445.10 L188.0,445.10 L188.7,445.05 L189.4,445.34 L190.1,445.19 L190.8,445.53 L191.5,445.07 L192.2,445.37 L192.9,445.31 L193.6,445.07 L194.3,445.43 L195.0,445.49 L195.7,445.11 L196.4,445.24 L197.1,445.55 L197.8,445.58 L198.5,445.39 L199.2,445.60 L199.9,445.10 L200.6,445.49 L201.3,445.44 L202.0,445.37 L202.7,445.29 L203.4,445.34 L204.1,445.22 L204.8,445.20 L205.5,445.34 L206.2,445.54 L206.9,445.01 L207.6,445.19 L208.3,445.55 L209.0,445.33 L209.7,445.15 L210.4,445.00 L211.1,445.56 L211.8,445.59 L212.5,445.31 L213.2,445.35 L213.9,445.06 L214.6,445.10 L215.3,445.40 L216.0,445.35 L216.7,445.25 L217.4,445.07 L218.1,445.48 L218.8,445.36 L219.5,445.55 L220.2,445.22 L220.9,445.58 L221.6,445.04 L222.3,446.30 L223.0,446.30 L223.7,446.30 L224.4,446.30 L225.1,446.30 L225.8,446.30 L226.5,446.30 L227.2,446.30 L227.9,446.30 L228.6,446.30 L229.3,446.30 L230.0,446.30 L230.7,446.30 L231.4,446.30 L232.1,446.30 L232.8,446.30 L233.5,446.30 L234.2,444.89 L234.9,444.64 L235.6,444.55 L236.3,444.59 L237.0,444.66 L237.7,444.98 L238.4,445.06 L239.1,444.84 L239.8,444.91 L240.5,444.98 L241.2,444.58 L241.9,444.97 L242.6,444.61 L243.3,444.54 L244.0,445.03 L244.7,444.55 L245.4,444.86 L246.1,444.97 L246.8,444.99 L247.5,445.08 L248.2,444.80 L248.9,444.87 L249.6,444.59 L250.3,444.60 L251.0,445.07 L251.7,444.86 L252.4,444.87 L253.1,444.99 L253.8,444.95 L254.5,444.94 L255.2,444.68 L255.9,444.90 L256.6,445.03 L257.3,444.97 L258.0,444.83 L258.7,444.76 L259.4,444.95 L260.1,444.68 L260.8,444.97 L261.5,444.70 L261.5,446.3 Z" fill="#2a8757"/>
<text x="262.00" y="441.10" font-size="7.6" text-anchor="end" fill="#222" stroke="#222" stroke-width="0.12">ZZZ3</text>
<path d="M20.1,453.8 L22.3,453.8 L22.3,464.5 L20.1,464.5" fill="none" stroke="#111" stroke-width="1"/>
<text x="17.90" y="456.40" font-size="7.1" text-anchor="end" fill="#222" stroke="#222" stroke-width="0.12">2.3</text>
<text x="17.90" y="467.40" font-size="7.1" text-anchor="end" fill="#222" stroke="#222" stroke-width="0.12">0</text>
<path d="M23.5,464.5 L23.5,463.86 L24.2,464.02 L24.9,463.81 L25.6,463.94 L26.3,463.89 L27.0,463.86 L27.7,463.85 L28.4,463.92 L29.1,464.06 L29.8,463.80 L30.5,463.77 L31.2,463.90 L31.9,463.87 L32.6,463.98 L33.3,463.76 L34.0,463.83 L34.7,464.00 L35.4,463.79 L36.1,463.72 L36.8,463.96 L37.5,463.57 L38.2,463.62 L38.9,463.64 L39.6,463.15 L40.3,463.21 L41.0,462.81 L41.7,462.73 L42.4,462.85 L43.1,462.43 L43.8,462.07 L44.5,462.13 L45.2,461.92 L45.9,461.53 L46.6,461.59 L47.3,461.37 L48.0,461.12 L48.7,460.78 L49.4,460.96 L50.1,460.83 L50.8,460.23 L51.5,460.16 L52.2,460.12 L52.9,459.57 L53.6,459.38 L54.3,459.45 L55.0,459.13 L55.7,459.17 L56.4,459.17 L57.1,459.39 L57.8,459.51 L58.5,459.06 L59.2,458.97 L59.9,459.15 L60.6,459.02 L61.3,458.91 L62.0,459.05 L62.7,458.85 L63.4,459.00 L64.1,459.18 L64.8,459.41 L65.5,459.22 L66.2,459.43 L66.9,459.26 L67.6,459.66 L68.3,459.59 L69.0,459.78 L69.7,459.73 L70.4,459.67 L71.1,459.99 L71.8,460.06 L72.5,459.84 L73.2,460.04 L73.9,459.89 L74.6,460.13 L75.3,460.20 L76.0,459.98 L76.7,459.78 L77.4,459.85 L78.1,460.11 L78.8,460.30 L79.5,460.62 L80.2,460.62 L80.9,460.72 L81.6,460.47 L82.3,461.08 L83.0,460.71 L83.7,461.11 L84.4,461.26 L85.1,461.49 L85.8,461.19 L86.5,461.62 L87.2,461.30 L87.9,461.24 L88.6,461.33 L89.3,461.23 L90.0,460.68 L90.7,460.70 L91.4,460.64 L92.1,460.44 L92.8,460.83 L93.5,460.38 L94.2,460.26 L94.9,460.48 L95.6,460.26 L96.3,459.87 L97.0,460.18 L97.7,459.84 L98.4,460.12 L99.1,459.74 L99.8,459.90 L100.5,459.68 L101.2,459.69 L101.9,459.31 L102.6,459.31 L103.3,459.38 L104.0,459.19 L104.7,459.32 L105.4,459.07 L106.1,459.38 L106.8,459.18 L107.5,459.13 L108.2,459.23 L108.9,459.41 L109.6,459.31 L110.3,459.13 L111.0,459.64 L111.7,459.57 L112.4,459.98 L113.1,459.96 L113.8,460.28 L114.5,460.61 L115.2,461.08 L115.9,461.54 L116.6,461.39 L117.3,461.41 L118.0,461.45 L118.7,462.02 L119.4,462.18 L120.1,461.83 L120.8,462.12 L121.5,462.41 L122.2,462.37 L122.9,462.78 L123.6,462.59 L124.3,462.57 L125.0,462.66 L125.7,462.98 L126.4,463.05 L127.1,462.81 L127.8,462.70 L128.5,463.20 L129.2,463.34 L129.9,463.34 L130.6,462.92 L131.3,463.14 L132.0,463.09 L132.7,462.75 L133.4,462.97 L134.1,463.16 L134.8,462.88 L135.5,463.29 L136.2,463.11 L136.9,462.84 L137.6,463.15 L138.3,463.21 L139.0,462.91 L139.7,463.01 L140.4,462.61 L141.1,463.12 L141.8,462.68 L142.5,462.92 L143.2,462.65 L143.9,462.85 L144.6,462.71 L145.3,462.90 L146.0,462.95 L146.7,462.79 L147.4,462.57 L148.1,462.83 L148.8,462.89 L149.5,462.76 L150.2,462.92 L150.9,462.72 L151.6,462.50 L152.3,462.44 L153.0,462.34 L153.7,462.46 L154.4,462.55 L155.1,462.47 L155.8,462.22 L156.5,462.23 L157.2,461.94 L157.9,462.05 L158.6,461.68 L159.3,461.71 L160.0,461.60 L160.7,461.60 L161.4,461.77 L162.1,461.87 L162.8,461.98 L163.5,462.17 L164.2,461.78 L164.9,461.99 L165.6,462.28 L166.3,461.82 L167.0,462.07 L167.7,462.09 L168.4,462.24 L169.1,462.47 L169.8,461.99 L170.5,462.50 L171.2,462.39 L171.9,462.01 L172.6,462.54 L173.3,462.32 L174.0,462.34 L174.7,462.48 L175.4,462.08 L176.1,462.39 L176.8,462.64 L177.5,462.37 L178.2,462.65 L178.9,462.23 L179.6,462.14 L180.3,462.13 L181.0,462.64 L181.7,462.27 L182.4,462.50 L183.1,462.40 L183.8,462.51 L184.5,462.51 L185.2,462.62 L185.9,462.33 L186.6,462.66 L187.3,462.14 L188.0,462.69 L188.7,462.15 L189.4,462.61 L190.1,462.68 L190.8,462.29 L191.5,462.42 L192.2,462.29 L192.9,462.45 L193.6,462.38 L194.3,462.71 L195.0,462.36 L195.7,462.46 L196.4,462.20 L197.1,462.78 L197.8,462.74 L198.5,462.38 L199.2,462.24 L199.9,462.55 L200.6,462.38 L201.3,462.48 L202.0,462.59 L202.7,462.56 L203.4,462.48 L204.1,462.84 L204.8,462.68 L205.5,462.43 L206.2,462.73 L206.9,462.61 L207.6,462.75 L208.3,462.70 L209.0,462.53 L209.7,462.48 L210.4,462.36 L211.1,462.66 L211.8,462.84 L212.5,462.76 L213.2,462.94 L213.9,462.84 L214.6,462.64 L215.3,462.64 L216.0,464.50 L216.7,464.50 L217.4,464.50 L218.1,464.50 L218.8,464.50 L219.5,464.50 L220.2,464.50 L220.9,464.50 L221.6,464.50 L222.3,464.50 L223.0,464.50 L223.7,464.50 L224.4,464.50 L225.1,464.50 L225.8,464.50 L226.5,464.50 L227.2,464.50 L227.9,464.50 L228.6,464.50 L229.3,464.50 L230.0,464.50 L230.7,464.50 L231.4,464.50 L232.1,464.50 L232.8,464.50 L233.5,463.07 L234.2,463.00 L234.9,463.04 L235.6,463.18 L236.3,463.06 L237.0,462.91 L237.7,462.87 L238.4,462.75 L239.1,463.18 L239.8,462.77 L240.5,462.82 L241.2,462.87 L241.9,462.71 L242.6,463.22 L243.3,462.83 L244.0,462.76 L244.7,463.23 L245.4,462.94 L246.1,462.73 L246.8,463.12 L247.5,462.79 L248.2,462.76 L248.9,463.04 L249.6,463.21 L250.3,463.17 L251.0,462.80 L251.7,463.05 L252.4,463.11 L253.1,463.03 L253.8,462.74 L254.5,463.15 L255.2,463.29 L255.9,462.73 L256.6,463.11 L257.3,463.07 L258.0,462.71 L258.7,463.13 L259.4,463.25 L260.1,462.77 L260.8,463.15 L261.5,463.17 L261.5,464.5 Z" fill="#1de3ee"/>
<text x="262.00" y="459.10" font-size="7.6" text-anchor="end" fill="#222" stroke="#222" stroke-width="0.12">SPT20</text>
<line x1="89.80" y1="470.00" x2="196.20" y2="470.00" stroke="#b4b4e4" stroke-width="1.0"/>
<rect x="94.30" y="469.40" width="1.00" height="1.20" fill="#7070c8"/>
<rect x="101.37" y="469.40" width="1.00" height="1.20" fill="#7070c8"/>
<rect x="108.44" y="469.40" width="1.00" height="1.20" fill="#7070c8"/>
<rect x="115.51" y="469.40" width="1.00" height="1.20" fill="#7070c8"/>
<rect x="122.58" y="469.40" width="1.00" height="1.20" fill="#7070c8"/>
<rect x="129.65" y="469.40" width="1.00" height="1.20" fill="#7070c8"/>
<rect x="136.72" y="469.40" width="1.00" height="1.20" fill="#7070c8"/>
<rect x="143.79" y="469.40" width="1.00" height="1.20" fill="#7070c8"/>
<rect x="150.86" y="469.40" width="1.00" height="1.20" fill="#7070c8"/>
<rect x="157.93" y="469.40" width="1.00" height="1.20" fill="#7070c8"/>
<rect x="165.00" y="469.40" width="1.00" height="1.20" fill="#7070c8"/>
<rect x="172.07" y="469.40" width="1.00" height="1.20" fill="#7070c8"/>
<rect x="179.14" y="469.40" width="1.00" height="1.20" fill="#7070c8"/>
<rect x="186.21" y="469.40" width="1.00" height="1.20" fill="#7070c8"/>
<rect x="193.28" y="469.40" width="1.00" height="1.20" fill="#7070c8"/>
<rect x="89.80" y="469.10" width="9.00" height="1.80" fill="#10109a"/>
<rect x="98.80" y="468.20" width="8.40" height="3.60" fill="#10109a"/>
<rect x="163.20" y="468.20" width="14.80" height="3.60" fill="#10109a"/>
<rect x="186.40" y="468.20" width="7.20" height="3.60" fill="#10109a"/>
<rect x="193.60" y="469.10" width="2.60" height="1.80" fill="#10109a"/>
<text x="139.90" y="479.50" font-size="7.9" text-anchor="start" fill="#3f72aa" font-style="italic" stroke="#3f72aa" stroke-width="0.12">HBB</text>
<text x="6.60" y="511.40" font-size="10.2" text-anchor="start" fill="#000" font-weight="bold">E</text>
<line x1="23.70" y1="523.00" x2="261.70" y2="523.00" stroke="#111" stroke-width="1.1"/>
<line x1="31.70" y1="520.80" x2="31.70" y2="523.00" stroke="#111" stroke-width="0.9"/>
<line x1="47.50" y1="520.80" x2="47.50" y2="523.00" stroke="#111" stroke-width="0.9"/>
<line x1="63.30" y1="520.80" x2="63.30" y2="523.00" stroke="#111" stroke-width="0.9"/>
<line x1="79.10" y1="520.80" x2="79.10" y2="523.00" stroke="#111" stroke-width="0.9"/>
<line x1="94.90" y1="520.80" x2="94.90" y2="523.00" stroke="#111" stroke-width="0.9"/>
<line x1="110.70" y1="520.80" x2="110.70" y2="523.00" stroke="#111" stroke-width="0.9"/>
<line x1="126.50" y1="520.80" x2="126.50" y2="523.00" stroke="#111" stroke-width="0.9"/>
<line x1="142.30" y1="520.80" x2="142.30" y2="523.00" stroke="#111" stroke-width="0.9"/>
<line x1="158.10" y1="520.80" x2="158.10" y2="523.00" stroke="#111" stroke-width="0.9"/>
<line x1="173.90" y1="520.80" x2="173.90" y2="523.00" stroke="#111" stroke-width="0.9"/>
<line x1="189.70" y1="520.80" x2="189.70" y2="523.00" stroke="#111" stroke-width="0.9"/>
<line x1="205.50" y1="520.80" x2="205.50" y2="523.00" stroke="#111" stroke-width="0.9"/>
<line x1="221.30" y1="520.80" x2="221.30" y2="523.00" stroke="#111" stroke-width="0.9"/>
<line x1="237.10" y1="520.80" x2="237.10" y2="523.00" stroke="#111" stroke-width="0.9"/>
<line x1="252.90" y1="520.80" x2="252.90" y2="523.00" stroke="#111" stroke-width="0.9"/>
<text x="47.50" y="517.90" font-size="7.1" text-anchor="middle" fill="#222" stroke="#222" stroke-width="0.12">3,575 kb</text>
<text x="79.10" y="517.90" font-size="7.1" text-anchor="middle" fill="#222" stroke="#222" stroke-width="0.12">3,576 kb</text>
<text x="110.70" y="517.90" font-size="7.1" text-anchor="middle" fill="#222" stroke="#222" stroke-width="0.12">3,577 kb</text>
<text x="142.30" y="517.90" font-size="7.1" text-anchor="middle" fill="#222" stroke="#222" stroke-width="0.12">3,578 kb</text>
<text x="173.90" y="517.90" font-size="7.1" text-anchor="middle" fill="#222" stroke="#222" stroke-width="0.12">3,579 kb</text>
<text x="205.50" y="517.90" font-size="7.1" text-anchor="middle" fill="#222" stroke="#222" stroke-width="0.12">3,580 kb</text>
<text x="237.10" y="517.90" font-size="7.1" text-anchor="middle" fill="#222" stroke="#222" stroke-width="0.12">3,581 kb</text>
<path d="M20.2,530.5 L22.4,530.5 L22.4,542.0 L20.2,542.0" fill="none" stroke="#111" stroke-width="1"/>
<text x="18.00" y="533.10" font-size="7.1" text-anchor="end" fill="#222" stroke="#222" stroke-width="0.12">70</text>
<text x="18.00" y="544.90" font-size="7.1" text-anchor="end" fill="#222" stroke="#222" stroke-width="0.12">0</text>
<path d="M23.5,542.0 L23.5,541.51 L24.2,541.65 L24.9,541.51 L25.6,541.62 L26.3,541.63 L27.0,541.64 L27.7,541.57 L28.4,541.56 L29.1,541.59 L29.8,541.57 L30.5,541.61 L31.2,541.49 L31.9,541.46 L32.6,541.50 L33.3,541.48 L34.0,541.64 L34.7,541.60 L35.4,541.61 L36.1,541.62 L36.8,541.42 L37.5,541.43 L38.2,541.43 L38.9,541.51 L39.6,541.61 L40.3,541.53 L41.0,541.62 L41.7,541.41 L42.4,541.56 L43.1,541.50 L43.8,540.83 L44.5,540.80 L45.2,540.04 L45.9,539.95 L46.6,539.66 L47.3,539.87 L48.0,539.40 L48.7,539.58 L49.4,539.54 L50.1,539.36 L50.8,539.67 L51.5,540.12 L52.2,540.47 L52.9,540.52 L53.6,541.08 L54.3,540.83 L55.0,541.12 L55.7,541.24 L56.4,541.20 L57.1,541.32 L57.8,541.26 L58.5,540.84 L59.2,540.44 L59.9,540.00 L60.6,539.55 L61.3,538.98 L62.0,538.36 L62.7,538.18 L63.4,537.67 L64.1,537.46 L64.8,537.29 L65.5,537.09 L66.2,536.65 L66.9,536.73 L67.6,536.67 L68.3,536.50 L69.0,536.23 L69.7,536.18 L70.4,535.91 L71.1,535.63 L71.8,535.52 L72.5,534.98 L73.2,534.70 L73.9,534.38 L74.6,534.09 L75.3,533.77 L76.0,533.34 L76.7,533.29 L77.4,532.60 L78.1,532.76 L78.8,532.11 L79.5,532.17 L80.2,531.59 L80.9,531.58 L81.6,531.67 L82.3,531.80 L83.0,532.01 L83.7,532.37 L84.4,532.72 L85.1,533.03 L85.8,533.85 L86.5,534.05 L87.2,534.54 L87.9,534.53 L88.6,534.96 L89.3,535.09 L90.0,535.34 L90.7,535.52 L91.4,535.96 L92.1,536.14 L92.8,536.58 L93.5,537.09 L94.2,536.93 L94.9,537.56 L95.6,537.79 L96.3,537.64 L97.0,538.14 L97.7,538.18 L98.4,538.72 L99.1,538.85 L99.8,538.83 L100.5,539.31 L101.2,539.17 L101.9,539.07 L102.6,539.53 L103.3,539.39 L104.0,539.48 L104.7,539.65 L105.4,539.68 L106.1,539.82 L106.8,540.26 L107.5,540.28 L108.2,540.21 L108.9,540.10 L109.6,540.58 L110.3,540.47 L111.0,540.73 L111.7,540.40 L112.4,540.63 L113.1,540.62 L113.8,540.58 L114.5,540.87 L115.2,540.61 L115.9,540.60 L116.6,540.60 L117.3,540.92 L118.0,540.96 L118.7,541.02 L119.4,540.67 L120.1,540.93 L120.8,540.97 L121.5,540.93 L122.2,540.86 L122.9,541.07 L123.6,541.08 L124.3,540.89 L125.0,540.91 L125.7,541.16 L126.4,541.28 L127.1,540.92 L127.8,541.03 L128.5,541.11 L129.2,541.21 L129.9,541.01 L130.6,541.23 L131.3,541.31 L132.0,541.35 L132.7,541.25 L133.4,541.15 L134.1,541.24 L134.8,541.00 L135.5,541.12 L136.2,541.20 L136.9,541.11 L137.6,541.13 L138.3,541.12 L139.0,541.17 L139.7,541.16 L140.4,541.17 L141.1,541.02 L141.8,541.29 L142.5,541.04 L143.2,541.24 L143.9,541.01 L144.6,541.33 L145.3,541.16 L146.0,541.17 L146.7,541.05 L147.4,541.27 L148.1,541.24 L148.8,541.30 L149.5,541.11 L150.2,541.10 L150.9,541.35 L151.6,541.27 L152.3,541.26 L153.0,540.92 L153.7,541.14 L154.4,541.09 L155.1,541.21 L155.8,541.04 L156.5,540.97 L157.2,541.03 L157.9,541.33 L158.6,541.13 L159.3,541.11 L160.0,541.30 L160.7,540.98 L161.4,541.19 L162.1,541.21 L162.8,541.07 L163.5,541.09 L164.2,541.13 L164.9,540.98 L165.6,541.13 L166.3,541.21 L167.0,541.34 L167.7,541.14 L168.4,541.22 L169.1,541.15 L169.8,541.24 L170.5,541.38 L171.2,541.37 L171.9,541.33 L172.6,541.36 L173.3,541.06 L174.0,541.17 L174.7,541.31 L175.4,541.13 L176.1,541.17 L176.8,541.40 L177.5,541.13 L178.2,541.34 L178.9,541.05 L179.6,541.38 L180.3,541.33 L181.0,541.35 L181.7,541.13 L182.4,541.15 L183.1,541.24 L183.8,541.41 L184.5,541.31 L185.2,541.22 L185.9,541.45 L186.6,541.15 L187.3,541.19 L188.0,541.16 L188.7,541.25 L189.4,541.28 L190.1,541.17 L190.8,541.41 L191.5,541.40 L192.2,541.47 L192.9,541.45 L193.6,541.26 L194.3,541.49 L195.0,541.28 L195.7,541.40 L196.4,541.25 L197.1,541.30 L197.8,541.33 L198.5,541.28 L199.2,541.53 L199.9,541.47 L200.6,541.44 L201.3,541.42 L202.0,541.35 L202.7,541.29 L203.4,541.33 L204.1,541.27 L204.8,541.34 L205.5,541.44 L206.2,541.40 L206.9,541.33 L207.6,541.31 L208.3,541.44 L209.0,541.44 L209.7,541.37 L210.4,541.48 L211.1,541.29 L211.8,541.55 L212.5,541.36 L213.2,541.40 L213.9,541.49 L214.6,541.38 L215.3,541.41 L216.0,541.26 L216.7,541.28 L217.4,541.37 L218.1,541.29 L218.8,541.28 L219.5,541.50 L220.2,541.30 L220.9,541.30 L221.6,541.25 L222.3,541.32 L223.0,541.43 L223.7,541.49 L224.4,541.35 L225.1,541.49 L225.8,541.32 L226.5,541.38 L227.2,541.30 L227.9,541.44 L228.6,541.46 L229.3,541.28 L230.0,541.35 L230.7,541.44 L231.4,541.38 L232.1,541.42 L232.8,541.36 L233.5,541.39 L234.2,541.46 L234.9,541.26 L235.6,541.28 L236.3,541.32 L237.0,541.47 L237.7,541.49 L238.4,541.33 L239.1,541.30 L239.8,541.35 L240.5,541.49 L241.2,541.33 L241.9,541.39 L242.6,541.44 L243.3,541.37 L244.0,541.42 L244.7,541.36 L245.4,541.32 L246.1,541.26 L246.8,541.52 L247.5,541.38 L248.2,541.27 L248.9,541.35 L249.6,541.38 L250.3,541.29 L251.0,541.54 L251.7,541.31 L252.4,541.36 L253.1,541.37 L253.8,541.46 L254.5,541.36 L255.2,541.51 L255.9,541.39 L256.6,541.47 L257.3,541.27 L258.0,541.31 L258.7,541.41 L259.4,541.32 L260.1,541.43 L260.8,541.39 L261.5,541.50 L261.5,542.0 Z" fill="#f8c466"/>
<text x="262.00" y="538.30" font-size="7.6" text-anchor="end" fill="#222" stroke="#222" stroke-width="0.12">H3K9ac</text>
<path d="M20.2,549.5 L22.4,549.5 L22.4,561.0 L20.2,561.0" fill="none" stroke="#111" stroke-width="1"/>
<text x="18.00" y="552.10" font-size="7.1" text-anchor="end" fill="#222" stroke="#222" stroke-width="0.12">30</text>
<text x="18.00" y="563.90" font-size="7.1" text-anchor="end" fill="#222" stroke="#222" stroke-width="0.12">0</text>
<path d="M23.5,561.0 L23.5,560.43 L24.2,560.44 L24.9,560.43 L25.6,560.56 L26.3,560.39 L27.0,560.56 L27.7,560.43 L28.4,560.43 L29.1,560.52 L29.8,560.43 L30.5,560.31 L31.2,560.36 L31.9,560.43 L32.6,560.29 L33.3,560.40 L34.0,560.25 L34.7,560.37 L35.4,560.45 L36.1,560.20 L36.8,560.43 L37.5,560.37 L38.2,560.22 L38.9,560.40 L39.6,560.26 L40.3,560.16 L41.0,560.23 L41.7,560.29 L42.4,560.16 L43.1,560.13 L43.8,560.19 L44.5,560.17 L45.2,560.24 L45.9,560.14 L46.6,559.85 L47.3,559.78 L48.0,560.10 L48.7,559.95 L49.4,559.87 L50.1,559.57 L50.8,559.74 L51.5,559.68 L52.2,559.37 L52.9,559.54 L53.6,559.15 L54.3,559.29 L55.0,559.04 L55.7,558.51 L56.4,558.20 L57.1,555.69 L57.8,553.27 L58.5,552.41 L59.2,552.20 L59.9,551.66 L60.6,551.77 L61.3,551.97 L62.0,551.87 L62.7,552.59 L63.4,552.96 L64.1,555.17 L64.8,557.39 L65.5,558.51 L66.2,559.60 L66.9,560.15 L67.6,560.13 L68.3,559.98 L69.0,560.14 L69.7,559.93 L70.4,560.25 L71.1,559.97 L71.8,560.07 L72.5,560.02 L73.2,560.20 L73.9,560.31 L74.6,560.29 L75.3,560.15 L76.0,560.36 L76.7,560.35 L77.4,560.16 L78.1,560.15 L78.8,560.17 L79.5,560.19 L80.2,560.28 L80.9,560.19 L81.6,560.24 L82.3,560.28 L83.0,560.32 L83.7,560.43 L84.4,560.41 L85.1,560.37 L85.8,560.31 L86.5,560.41 L87.2,560.17 L87.9,560.28 L88.6,560.23 L89.3,560.19 L90.0,560.38 L90.7,560.19 L91.4,560.17 L92.1,560.37 L92.8,560.40 L93.5,560.22 L94.2,560.19 L94.9,560.22 L95.6,560.33 L96.3,560.27 L97.0,560.41 L97.7,560.37 L98.4,560.32 L99.1,560.23 L99.8,560.42 L100.5,560.18 L101.2,560.43 L101.9,560.17 L102.6,560.37 L103.3,560.21 L104.0,560.21 L104.7,560.17 L105.4,560.31 L106.1,560.24 L106.8,560.36 L107.5,560.21 L108.2,560.41 L108.9,560.19 L109.6,560.27 L110.3,560.42 L111.0,560.18 L111.7,560.35 L112.4,560.42 L113.1,560.37 L113.8,560.43 L114.5,560.36 L115.2,560.24 L115.9,560.16 L116.6,560.26 L117.3,560.20 L118.0,560.21 L118.7,560.24 L119.4,560.33 L120.1,560.37 L120.8,560.40 L121.5,560.29 L122.2,560.38 L122.9,560.23 L123.6,560.35 L124.3,560.28 L125.0,560.29 L125.7,560.26 L126.4,560.40 L127.1,560.37 L127.8,560.25 L128.5,560.38 L129.2,560.25 L129.9,560.17 L130.6,560.33 L131.3,560.17 L132.0,560.27 L132.7,560.18 L133.4,560.29 L134.1,560.23 L134.8,560.25 L135.5,560.39 L136.2,560.29 L136.9,560.28 L137.6,560.31 L138.3,560.26 L139.0,560.19 L139.7,560.22 L140.4,560.21 L141.1,560.40 L141.8,560.24 L142.5,560.26 L143.2,560.18 L143.9,560.44 L144.6,560.39 L145.3,560.17 L146.0,560.34 L146.7,560.24 L147.4,560.27 L148.1,560.33 L148.8,560.32 L149.5,560.28 L150.2,560.16 L150.9,560.29 L151.6,560.22 L152.3,560.36 L153.0,560.24 L153.7,560.27 L154.4,560.23 L155.1,560.19 L155.8,560.42 L156.5,560.17 L157.2,560.27 L157.9,560.37 L158.6,560.31 L159.3,560.41 L160.0,560.38 L160.7,560.21 L161.4,560.24 L162.1,560.20 L162.8,560.39 L163.5,560.41 L164.2,560.33 L164.9,560.30 L165.6,560.24 L166.3,560.36 L167.0,560.23 L167.7,560.28 L168.4,560.36 L169.1,560.22 L169.8,560.42 L170.5,560.27 L171.2,560.39 L171.9,560.43 L172.6,560.31 L173.3,560.29 L174.0,560.27 L174.7,560.33 L175.4,560.18 L176.1,560.22 L176.8,560.40 L177.5,560.44 L178.2,560.17 L178.9,560.32 L179.6,560.41 L180.3,560.39 L181.0,560.24 L181.7,560.39 L182.4,560.34 L183.1,560.25 L183.8,560.34 L184.5,560.26 L185.2,560.17 L185.9,560.22 L186.6,560.26 L187.3,560.26 L188.0,560.35 L188.7,560.26 L189.4,560.26 L190.1,560.28 L190.8,560.30 L191.5,560.23 L192.2,560.38 L192.9,560.24 L193.6,560.17 L194.3,560.43 L195.0,560.37 L195.7,560.16 L196.4,560.42 L197.1,560.21 L197.8,560.28 L198.5,560.42 L199.2,560.26 L199.9,560.44 L200.6,560.20 L201.3,560.36 L202.0,560.18 L202.7,560.19 L203.4,560.40 L204.1,560.33 L204.8,560.40 L205.5,560.23 L206.2,560.41 L206.9,560.42 L207.6,560.41 L208.3,560.20 L209.0,560.37 L209.7,560.35 L210.4,560.32 L211.1,560.29 L211.8,560.32 L212.5,560.17 L213.2,560.34 L213.9,560.31 L214.6,560.20 L215.3,560.37 L216.0,560.39 L216.7,560.21 L217.4,560.35 L218.1,560.19 L218.8,560.21 L219.5,560.34 L220.2,560.35 L220.9,560.41 L221.6,560.20 L222.3,560.32 L223.0,560.34 L223.7,560.39 L224.4,560.38 L225.1,560.20 L225.8,560.40 L226.5,560.28 L227.2,560.27 L227.9,560.29 L228.6,560.30 L229.3,560.33 L230.0,560.39 L230.7,560.21 L231.4,560.19 L232.1,560.28 L232.8,560.37 L233.5,560.18 L234.2,560.38 L234.9,560.39 L235.6,560.26 L236.3,560.21 L237.0,560.28 L237.7,560.41 L238.4,560.17 L239.1,560.40 L239.8,560.34 L240.5,560.16 L241.2,560.22 L241.9,560.23 L242.6,560.42 L243.3,560.20 L244.0,560.33 L244.7,560.44 L245.4,560.22 L246.1,560.18 L246.8,560.43 L247.5,560.31 L248.2,560.19 L248.9,560.35 L249.6,560.36 L250.3,560.22 L251.0,560.32 L251.7,560.16 L252.4,560.20 L253.1,560.20 L253.8,560.24 L254.5,560.39 L255.2,560.25 L255.9,560.28 L256.6,560.30 L257.3,560.28 L258.0,560.35 L258.7,560.38 L259.4,560.18 L260.1,560.34 L260.8,560.41 L261.5,560.17 L261.5,561.0 Z" fill="#1a8a1e"/>
<text x="262.00" y="554.10" font-size="7.6" text-anchor="end" fill="#222" stroke="#222" stroke-width="0.12">ZZZ3</text>
<line x1="56.00" y1="566.50" x2="234.50" y2="566.50" stroke="#b4b4e4" stroke-width="1.0"/>
<rect x="60.50" y="565.90" width="1.00" height="1.20" fill="#7070c8"/>
<rect x="67.57" y="565.90" width="1.00" height="1.20" fill="#7070c8"/>
<rect x="74.64" y="565.90" width="1.00" height="1.20" fill="#7070c8"/>
<rect x="81.71" y="565.90" width="1.00" height="1.20" fill="#7070c8"/>
<rect x="88.78" y="565.90" width="1.00" height="1.20" fill="#7070c8"/>
<rect x="95.85" y="565.90" width="1.00" height="1.20" fill="#7070c8"/>
<rect x="102.92" y="565.90" width="1.00" height="1.20" fill="#7070c8"/>
<rect x="109.99" y="565.90" width="1.00" height="1.20" fill="#7070c8"/>
<rect x="117.06" y="565.90" width="1.00" height="1.20" fill="#7070c8"/>
<rect x="124.13" y="565.90" width="1.00" height="1.20" fill="#7070c8"/>
<rect x="131.20" y="565.90" width="1.00" height="1.20" fill="#7070c8"/>
<rect x="138.27" y="565.90" width="1.00" height="1.20" fill="#7070c8"/>
<rect x="145.34" y="565.90" width="1.00" height="1.20" fill="#7070c8"/>
<rect x="152.41" y="565.90" width="1.00" height="1.20" fill="#7070c8"/>
<rect x="159.48" y="565.90" width="1.00" height="1.20" fill="#7070c8"/>
<rect x="166.55" y="565.90" width="1.00" height="1.20" fill="#7070c8"/>
<rect x="173.62" y="565.90" width="1.00" height="1.20" fill="#7070c8"/>
<rect x="180.69" y="565.90" width="1.00" height="1.20" fill="#7070c8"/>
<rect x="187.76" y="565.90" width="1.00" height="1.20" fill="#7070c8"/>
<rect x="194.83" y="565.90" width="1.00" height="1.20" fill="#7070c8"/>
<rect x="201.90" y="565.90" width="1.00" height="1.20" fill="#7070c8"/>
<rect x="208.97" y="565.90" width="1.00" height="1.20" fill="#7070c8"/>
<rect x="216.04" y="565.90" width="1.00" height="1.20" fill="#7070c8"/>
<rect x="223.11" y="565.90" width="1.00" height="1.20" fill="#7070c8"/>
<rect x="230.18" y="565.90" width="1.00" height="1.20" fill="#7070c8"/>
<rect x="56.03" y="565.70" width="2.91" height="1.60" fill="#10109a"/>
<rect x="66.49" y="564.90" width="2.71" height="3.20" fill="#10109a"/>
<rect x="73.08" y="564.90" width="2.13" height="3.20" fill="#10109a"/>
<rect x="94.21" y="564.70" width="4.65" height="3.60" fill="#10109a"/>
<rect x="133.55" y="564.90" width="2.52" height="3.20" fill="#10109a"/>
<rect x="208.45" y="564.70" width="4.84" height="3.60" fill="#10109a"/>
<rect x="232.68" y="565.20" width="2.42" height="2.60" fill="#10109a"/>
<path d="M232.2,564.2 L235.4,566.5 L232.2,568.8Z" fill="#10109a"/>
<text x="138.30" y="576.60" font-size="7.9" text-anchor="start" fill="#3f72aa" font-style="italic" stroke="#3f72aa" stroke-width="0.12">RPS7</text>
<line x1="24.50" y1="594.50" x2="261.00" y2="594.50" stroke="#111" stroke-width="1.1"/>
<line x1="24.90" y1="592.30" x2="24.90" y2="594.50" stroke="#111" stroke-width="0.9"/>
<line x1="58.00" y1="592.30" x2="58.00" y2="594.50" stroke="#111" stroke-width="0.9"/>
<line x1="91.10" y1="592.30" x2="91.10" y2="594.50" stroke="#111" stroke-width="0.9"/>
<line x1="124.20" y1="592.30" x2="124.20" y2="594.50" stroke="#111" stroke-width="0.9"/>
<line x1="157.30" y1="592.30" x2="157.30" y2="594.50" stroke="#111" stroke-width="0.9"/>
<line x1="190.40" y1="592.30" x2="190.40" y2="594.50" stroke="#111" stroke-width="0.9"/>
<line x1="223.50" y1="592.30" x2="223.50" y2="594.50" stroke="#111" stroke-width="0.9"/>
<line x1="256.60" y1="592.30" x2="256.60" y2="594.50" stroke="#111" stroke-width="0.9"/>
<text x="58.40" y="590.00" font-size="7.1" text-anchor="middle" fill="#222" stroke="#222" stroke-width="0.12">5,225 kb</text>
<text x="124.60" y="590.00" font-size="7.1" text-anchor="middle" fill="#222" stroke="#222" stroke-width="0.12">5,226 kb</text>
<text x="190.60" y="590.00" font-size="7.1" text-anchor="middle" fill="#222" stroke="#222" stroke-width="0.12">5,227 kb</text>
<text x="256.40" y="590.00" font-size="7.1" text-anchor="middle" fill="#222" stroke="#222" stroke-width="0.12">5,228 kb</text>
<path d="M20.2,602.0 L22.4,602.0 L22.4,613.8 L20.2,613.8" fill="none" stroke="#111" stroke-width="1"/>
<text x="18.00" y="604.60" font-size="7.1" text-anchor="end" fill="#222" stroke="#222" stroke-width="0.12">15</text>
<text x="18.00" y="616.70" font-size="7.1" text-anchor="end" fill="#222" stroke="#222" stroke-width="0.12">0</text>
<path d="M23.5,613.8 L23.5,611.99 L24.2,611.88 L24.9,612.07 L25.6,612.17 L26.3,612.05 L27.0,611.73 L27.7,612.06 L28.4,611.66 L29.1,612.01 L29.8,611.64 L30.5,612.06 L31.2,611.89 L31.9,612.07 L32.6,612.04 L33.3,611.80 L34.0,611.89 L34.7,611.77 L35.4,611.95 L36.1,611.88 L36.8,611.86 L37.5,611.50 L38.2,611.98 L38.9,611.76 L39.6,611.49 L40.3,611.64 L41.0,611.82 L41.7,611.36 L42.4,611.88 L43.1,611.85 L43.8,611.91 L44.5,611.65 L45.2,611.30 L45.9,611.37 L46.6,611.09 L47.3,610.61 L48.0,611.02 L48.7,611.04 L49.4,610.63 L50.1,610.96 L50.8,610.68 L51.5,610.88 L52.2,610.59 L52.9,610.42 L53.6,610.64 L54.3,610.12 L55.0,608.46 L55.7,607.37 L56.4,607.74 L57.1,607.61 L57.8,607.50 L58.5,607.40 L59.2,607.52 L59.9,607.27 L60.6,607.49 L61.3,607.08 L62.0,607.39 L62.7,607.53 L63.4,607.67 L64.1,607.70 L64.8,607.70 L65.5,607.36 L66.2,607.70 L66.9,607.74 L67.6,607.49 L68.3,607.67 L69.0,608.14 L69.7,608.81 L70.4,609.10 L71.1,609.35 L71.8,609.85 L72.5,610.49 L73.2,611.41 L73.9,612.24 L74.6,612.07 L75.3,612.19 L76.0,612.31 L76.7,612.32 L77.4,612.26 L78.1,612.24 L78.8,612.67 L79.5,612.20 L80.2,612.45 L80.9,612.55 L81.6,612.21 L82.3,612.36 L83.0,612.63 L83.7,612.85 L84.4,612.63 L85.1,612.65 L85.8,612.72 L86.5,612.91 L87.2,612.65 L87.9,612.87 L88.6,612.59 L89.3,612.76 L90.0,612.92 L90.7,612.61 L91.4,612.84 L92.1,613.05 L92.8,612.94 L93.5,613.08 L94.2,612.86 L94.9,612.58 L95.6,612.56 L96.3,612.73 L97.0,613.03 L97.7,612.98 L98.4,613.00 L99.1,612.90 L99.8,612.75 L100.5,613.11 L101.2,612.84 L101.9,612.88 L102.6,612.75 L103.3,612.66 L104.0,612.91 L104.7,612.79 L105.4,612.98 L106.1,612.88 L106.8,612.78 L107.5,613.11 L108.2,612.85 L108.9,612.86 L109.6,613.04 L110.3,613.01 L111.0,612.69 L111.7,612.96 L112.4,613.05 L113.1,613.00 L113.8,612.87 L114.5,612.94 L115.2,612.97 L115.9,612.98 L116.6,613.04 L117.3,612.89 L118.0,612.84 L118.7,613.12 L119.4,612.85 L120.1,613.00 L120.8,612.64 L121.5,612.66 L122.2,613.09 L122.9,612.79 L123.6,612.98 L124.3,613.10 L125.0,612.68 L125.7,612.66 L126.4,612.73 L127.1,612.81 L127.8,612.62 L128.5,612.85 L129.2,612.78 L129.9,612.79 L130.6,612.67 L131.3,612.67 L132.0,612.98 L132.7,613.03 L133.4,612.84 L134.1,612.81 L134.8,612.95 L135.5,612.66 L136.2,612.66 L136.9,612.75 L137.6,612.84 L138.3,612.74 L139.0,613.03 L139.7,612.68 L140.4,613.06 L141.1,612.62 L141.8,612.77 L142.5,612.97 L143.2,613.02 L143.9,612.78 L144.6,612.86 L145.3,612.72 L146.0,613.07 L146.7,612.62 L147.4,612.87 L148.1,612.86 L148.8,612.69 L149.5,612.76 L150.2,612.86 L150.9,612.94 L151.6,612.84 L152.3,613.10 L153.0,612.96 L153.7,612.62 L154.4,613.04 L155.1,613.06 L155.8,612.60 L156.5,612.88 L157.2,612.79 L157.9,612.75 L158.6,612.67 L159.3,612.91 L160.0,612.64 L160.7,613.10 L161.4,612.60 L162.1,612.92 L162.8,612.74 L163.5,612.93 L164.2,612.67 L164.9,612.90 L165.6,612.77 L166.3,612.94 L167.0,612.64 L167.7,612.68 L168.4,613.01 L169.1,612.70 L169.8,612.60 L170.5,613.00 L171.2,613.03 L171.9,612.62 L172.6,612.60 L173.3,613.07 L174.0,612.72 L174.7,612.63 L175.4,613.01 L176.1,612.73 L176.8,613.00 L177.5,612.73 L178.2,612.89 L178.9,612.91 L179.6,613.10 L180.3,612.82 L181.0,612.80 L181.7,613.02 L182.4,613.15 L183.1,613.13 L183.8,613.05 L184.5,612.66 L185.2,612.80 L185.9,612.72 L186.6,612.80 L187.3,613.13 L188.0,613.00 L188.7,612.71 L189.4,612.77 L190.1,612.70 L190.8,612.79 L191.5,612.85 L192.2,612.83 L192.9,612.76 L193.6,613.00 L194.3,613.20 L195.0,613.07 L195.7,613.22 L196.4,613.09 L197.1,612.94 L197.8,613.10 L198.5,613.11 L199.2,613.19 L199.9,613.07 L200.6,612.99 L201.3,612.95 L202.0,612.78 L202.7,613.20 L203.4,613.11 L204.1,613.20 L204.8,612.78 L205.5,612.93 L206.2,612.91 L206.9,612.84 L207.6,613.23 L208.3,612.79 L209.0,613.07 L209.7,612.92 L210.4,613.03 L211.1,612.86 L211.8,613.08 L212.5,613.09 L213.2,613.10 L213.9,612.87 L214.6,613.00 L215.3,613.15 L216.0,613.05 L216.7,612.94 L217.4,613.03 L218.1,612.92 L218.8,612.80 L219.5,612.90 L220.2,612.82 L220.9,613.06 L221.6,612.78 L222.3,612.74 L223.0,612.95 L223.7,613.20 L224.4,613.17 L225.1,612.83 L225.8,612.77 L226.5,612.84 L227.2,612.95 L227.9,612.93 L228.6,613.15 L229.3,612.90 L230.0,612.70 L230.7,613.10 L231.4,612.89 L232.1,612.77 L232.8,612.87 L233.5,613.02 L234.2,613.08 L234.9,612.82 L235.6,612.72 L236.3,612.75 L237.0,612.99 L237.7,612.81 L238.4,612.78 L239.1,613.00 L239.8,612.80 L240.5,612.99 L241.2,613.09 L241.9,613.19 L242.6,612.81 L243.3,612.80 L244.0,613.17 L244.7,613.16 L245.4,613.02 L246.1,613.08 L246.8,612.80 L247.5,613.09 L248.2,612.88 L248.9,612.89 L249.6,613.00 L250.3,612.73 L251.0,612.95 L251.7,612.91 L252.4,612.83 L253.1,612.96 L253.8,613.08 L254.5,612.67 L255.2,612.77 L255.9,612.88 L256.6,612.91 L257.3,612.84 L258.0,613.01 L258.7,613.13 L259.4,612.88 L260.1,612.69 L260.8,613.12 L261.5,612.64 L261.5,613.8 Z" fill="#f8c466"/>
<text x="262.00" y="606.70" font-size="7.6" text-anchor="end" fill="#222" stroke="#222" stroke-width="0.12">H3K9ac</text>
<path d="M20.2,621.3 L22.4,621.3 L22.4,632.5 L20.2,632.5" fill="none" stroke="#111" stroke-width="1"/>
<text x="18.00" y="623.90" font-size="7.1" text-anchor="end" fill="#222" stroke="#222" stroke-width="0.12">15</text>
<text x="18.00" y="635.40" font-size="7.1" text-anchor="end" fill="#222" stroke="#222" stroke-width="0.12">0</text>
<path d="M23.5,632.5 L23.5,631.66 L24.2,631.38 L24.9,631.48 L25.6,631.70 L26.3,631.73 L27.0,631.43 L27.7,631.38 L28.4,631.46 L29.1,631.56 L29.8,631.58 L30.5,631.47 L31.2,631.45 L31.9,631.45 L32.6,631.70 L33.3,631.45 L34.0,631.40 L34.7,631.57 L35.4,631.82 L36.1,631.74 L36.8,631.53 L37.5,631.63 L38.2,631.41 L38.9,631.54 L39.6,631.51 L40.3,631.76 L41.0,631.59 L41.7,631.51 L42.4,631.41 L43.1,631.42 L43.8,631.71 L44.5,631.60 L45.2,631.38 L45.9,631.78 L46.6,631.79 L47.3,631.74 L48.0,631.50 L48.7,631.68 L49.4,631.51 L50.1,631.45 L50.8,631.46 L51.5,631.81 L52.2,631.52 L52.9,631.47 L53.6,631.51 L54.3,631.44 L55.0,631.46 L55.7,631.55 L56.4,631.44 L57.1,631.58 L57.8,631.78 L58.5,631.70 L59.2,631.41 L59.9,631.67 L60.6,631.61 L61.3,631.43 L62.0,631.52 L62.7,631.47 L63.4,631.61 L64.1,631.60 L64.8,631.79 L65.5,631.74 L66.2,631.75 L66.9,631.58 L67.6,631.59 L68.3,631.79 L69.0,631.54 L69.7,631.78 L70.4,631.65 L71.1,631.81 L71.8,631.61 L72.5,631.76 L73.2,631.40 L73.9,631.66 L74.6,631.45 L75.3,631.63 L76.0,631.68 L76.7,631.45 L77.4,631.70 L78.1,631.59 L78.8,631.54 L79.5,631.38 L80.2,631.51 L80.9,631.80 L81.6,631.62 L82.3,631.40 L83.0,631.44 L83.7,631.66 L84.4,631.77 L85.1,631.70 L85.8,631.48 L86.5,631.74 L87.2,631.42 L87.9,631.71 L88.6,631.51 L89.3,631.51 L90.0,631.72 L90.7,631.59 L91.4,631.54 L92.1,631.70 L92.8,631.59 L93.5,631.54 L94.2,631.39 L94.9,631.70 L95.6,631.75 L96.3,631.60 L97.0,631.56 L97.7,631.61 L98.4,631.41 L99.1,631.73 L99.8,631.60 L100.5,631.61 L101.2,631.74 L101.9,631.62 L102.6,631.62 L103.3,631.66 L104.0,631.48 L104.7,631.38 L105.4,631.39 L106.1,631.73 L106.8,631.66 L107.5,631.40 L108.2,631.79 L108.9,631.78 L109.6,631.80 L110.3,631.39 L111.0,631.60 L111.7,631.63 L112.4,631.78 L113.1,631.43 L113.8,631.38 L114.5,631.52 L115.2,631.41 L115.9,631.57 L116.6,631.69 L117.3,631.74 L118.0,631.69 L118.7,631.76 L119.4,631.66 L120.1,631.80 L120.8,631.81 L121.5,631.42 L122.2,631.44 L122.9,631.46 L123.6,631.67 L124.3,631.62 L125.0,631.58 L125.7,631.47 L126.4,631.69 L127.1,631.59 L127.8,631.58 L128.5,631.45 L129.2,631.67 L129.9,631.82 L130.6,631.64 L131.3,631.43 L132.0,631.75 L132.7,631.54 L133.4,631.77 L134.1,631.70 L134.8,631.54 L135.5,631.78 L136.2,631.62 L136.9,631.56 L137.6,631.65 L138.3,631.48 L139.0,631.44 L139.7,631.70 L140.4,631.48 L141.1,631.48 L141.8,631.56 L142.5,631.56 L143.2,631.57 L143.9,631.49 L144.6,631.51 L145.3,631.70 L146.0,631.53 L146.7,631.51 L147.4,631.62 L148.1,631.42 L148.8,631.68 L149.5,631.58 L150.2,631.57 L150.9,631.55 L151.6,631.74 L152.3,631.52 L153.0,631.77 L153.7,631.59 L154.4,631.62 L155.1,631.51 L155.8,631.44 L156.5,631.38 L157.2,631.72 L157.9,631.42 L158.6,631.61 L159.3,631.60 L160.0,631.81 L160.7,631.44 L161.4,631.72 L162.1,631.70 L162.8,631.69 L163.5,631.72 L164.2,631.69 L164.9,631.70 L165.6,631.59 L166.3,631.66 L167.0,631.48 L167.7,631.41 L168.4,631.41 L169.1,631.66 L169.8,631.52 L170.5,631.50 L171.2,631.50 L171.9,631.65 L172.6,631.74 L173.3,631.48 L174.0,631.53 L174.7,631.67 L175.4,631.53 L176.1,631.79 L176.8,631.47 L177.5,631.42 L178.2,631.39 L178.9,631.77 L179.6,631.51 L180.3,631.47 L181.0,631.76 L181.7,631.55 L182.4,631.74 L183.1,631.73 L183.8,631.81 L184.5,631.70 L185.2,631.44 L185.9,631.56 L186.6,631.47 L187.3,631.39 L188.0,631.76 L188.7,631.44 L189.4,631.42 L190.1,631.53 L190.8,631.67 L191.5,631.75 L192.2,631.63 L192.9,631.66 L193.6,631.71 L194.3,631.52 L195.0,631.54 L195.7,631.71 L196.4,631.75 L197.1,631.60 L197.8,631.51 L198.5,631.53 L199.2,631.54 L199.9,631.42 L200.6,631.48 L201.3,631.63 L202.0,631.49 L202.7,631.53 L203.4,631.67 L204.1,631.75 L204.8,631.66 L205.5,631.50 L206.2,631.49 L206.9,631.69 L207.6,631.58 L208.3,631.79 L209.0,631.56 L209.7,631.62 L210.4,631.48 L211.1,631.44 L211.8,631.80 L212.5,631.39 L213.2,631.75 L213.9,631.39 L214.6,631.38 L215.3,631.73 L216.0,631.69 L216.7,631.76 L217.4,631.42 L218.1,631.48 L218.8,631.39 L219.5,631.46 L220.2,631.66 L220.9,631.48 L221.6,631.66 L222.3,631.68 L223.0,631.63 L223.7,631.51 L224.4,631.68 L225.1,631.57 L225.8,631.57 L226.5,631.47 L227.2,631.61 L227.9,631.64 L228.6,631.58 L229.3,631.62 L230.0,631.50 L230.7,631.78 L231.4,631.75 L232.1,631.81 L232.8,631.64 L233.5,631.44 L234.2,631.56 L234.9,631.54 L235.6,631.40 L236.3,631.46 L237.0,631.69 L237.7,631.73 L238.4,631.58 L239.1,631.72 L239.8,631.56 L240.5,631.79 L241.2,631.65 L241.9,631.50 L242.6,631.71 L243.3,631.76 L244.0,631.49 L244.7,631.74 L245.4,631.42 L246.1,631.55 L246.8,631.43 L247.5,631.59 L248.2,631.60 L248.9,631.71 L249.6,631.80 L250.3,631.40 L251.0,631.73 L251.7,631.79 L252.4,631.41 L253.1,631.58 L253.8,631.56 L254.5,631.41 L255.2,631.50 L255.9,631.71 L256.6,631.70 L257.3,631.53 L258.0,631.52 L258.7,631.72 L259.4,631.71 L260.1,631.60 L260.8,631.80 L261.5,631.46 L261.5,632.5 Z" fill="#3a9a3e"/>
<text x="262.00" y="627.00" font-size="7.6" text-anchor="end" fill="#222" stroke="#222" stroke-width="0.12">ZZZ3</text>
<line x1="89.80" y1="637.60" x2="196.20" y2="637.60" stroke="#b4b4e4" stroke-width="1.0"/>
<rect x="94.30" y="637.00" width="1.00" height="1.20" fill="#7070c8"/>
<rect x="101.37" y="637.00" width="1.00" height="1.20" fill="#7070c8"/>
<rect x="108.44" y="637.00" width="1.00" height="1.20" fill="#7070c8"/>
<rect x="115.51" y="637.00" width="1.00" height="1.20" fill="#7070c8"/>
<rect x="122.58" y="637.00" width="1.00" height="1.20" fill="#7070c8"/>
<rect x="129.65" y="637.00" width="1.00" height="1.20" fill="#7070c8"/>
<rect x="136.72" y="637.00" width="1.00" height="1.20" fill="#7070c8"/>
<rect x="143.79" y="637.00" width="1.00" height="1.20" fill="#7070c8"/>
<rect x="150.86" y="637.00" width="1.00" height="1.20" fill="#7070c8"/>
<rect x="157.93" y="637.00" width="1.00" height="1.20" fill="#7070c8"/>
<rect x="165.00" y="637.00" width="1.00" height="1.20" fill="#7070c8"/>
<rect x="172.07" y="637.00" width="1.00" height="1.20" fill="#7070c8"/>
<rect x="179.14" y="637.00" width="1.00" height="1.20" fill="#7070c8"/>
<rect x="186.21" y="637.00" width="1.00" height="1.20" fill="#7070c8"/>
<rect x="193.28" y="637.00" width="1.00" height="1.20" fill="#7070c8"/>
<rect x="89.80" y="636.70" width="9.00" height="1.80" fill="#10109a"/>
<rect x="98.80" y="635.80" width="8.40" height="3.60" fill="#10109a"/>
<rect x="163.20" y="635.80" width="14.80" height="3.60" fill="#10109a"/>
<rect x="186.40" y="635.80" width="7.20" height="3.60" fill="#10109a"/>
<rect x="193.60" y="636.70" width="2.60" height="1.80" fill="#10109a"/>
<text x="139.90" y="646.20" font-size="7.9" text-anchor="start" fill="#3f72aa" font-style="italic" stroke="#3f72aa" stroke-width="0.12">HBB</text>
<text x="304.80" y="345.70" font-size="10.2" text-anchor="start" fill="#000" font-weight="bold">F</text>
<line x1="360.20" y1="357.20" x2="360.20" y2="460.10" stroke="#111" stroke-width="1.1"/>
<line x1="357.20" y1="459.60" x2="360.20" y2="459.60" stroke="#111" stroke-width="0.9"/>
<text x="353.60" y="462.00" font-size="7.0" text-anchor="end" fill="#222" stroke="#222" stroke-width="0.12">0</text>
<line x1="357.20" y1="439.22" x2="360.20" y2="439.22" stroke="#111" stroke-width="0.9"/>
<text x="353.60" y="441.62" font-size="7.0" text-anchor="end" fill="#222" stroke="#222" stroke-width="0.12">5</text>
<line x1="357.20" y1="418.84" x2="360.20" y2="418.84" stroke="#111" stroke-width="0.9"/>
<text x="353.60" y="421.24" font-size="7.0" text-anchor="end" fill="#222" stroke="#222" stroke-width="0.12">10</text>
<line x1="357.20" y1="398.46" x2="360.20" y2="398.46" stroke="#111" stroke-width="0.9"/>
<text x="353.60" y="400.86" font-size="7.0" text-anchor="end" fill="#222" stroke="#222" stroke-width="0.12">15</text>
<line x1="357.20" y1="378.08" x2="360.20" y2="378.08" stroke="#111" stroke-width="0.9"/>
<text x="353.60" y="380.48" font-size="7.0" text-anchor="end" fill="#222" stroke="#222" stroke-width="0.12">20</text>
<line x1="357.20" y1="357.70" x2="360.20" y2="357.70" stroke="#111" stroke-width="0.9"/>
<text x="353.60" y="360.10" font-size="7.0" text-anchor="end" fill="#222" stroke="#222" stroke-width="0.12">25</text>
<line x1="360.20" y1="459.60" x2="497.00" y2="459.60" stroke="#111" stroke-width="1.1"/>
<line x1="381.80" y1="459.60" x2="381.80" y2="461.80" stroke="#111" stroke-width="0.8"/>
<line x1="369.00" y1="455.52" x2="369.00" y2="455.12" stroke="#000" stroke-width="0.9"/>
<line x1="367.30" y1="455.12" x2="370.70" y2="455.12" stroke="#000" stroke-width="0.9"/>
<rect x="365.00" y="455.52" width="8.00" height="4.08" fill="#000"/>
<circle cx="366.40" cy="455.52" r="1.4" fill="#fff" stroke="#000" stroke-width="0.95"/>
<circle cx="369.00" cy="455.52" r="1.4" fill="#fff" stroke="#000" stroke-width="0.95"/>
<circle cx="371.60" cy="455.52" r="1.4" fill="#fff" stroke="#000" stroke-width="0.95"/>
<line x1="381.80" y1="455.52" x2="381.80" y2="455.32" stroke="#2aa5e0" stroke-width="0.9"/>
<line x1="380.10" y1="455.32" x2="383.50" y2="455.32" stroke="#2aa5e0" stroke-width="0.9"/>
<rect x="377.80" y="455.52" width="8.00" height="4.08" fill="#2aa5e0"/>
<circle cx="379.20" cy="455.52" r="1.4" fill="#fff" stroke="#2aa5e0" stroke-width="0.95"/>
<circle cx="381.80" cy="455.52" r="1.4" fill="#fff" stroke="#2aa5e0" stroke-width="0.95"/>
<circle cx="384.40" cy="455.52" r="1.4" fill="#fff" stroke="#2aa5e0" stroke-width="0.95"/>
<line x1="394.30" y1="455.52" x2="394.30" y2="455.32" stroke="#0a6a4b" stroke-width="0.9"/>
<line x1="392.60" y1="455.32" x2="396.00" y2="455.32" stroke="#0a6a4b" stroke-width="0.9"/>
<rect x="390.30" y="455.52" width="8.00" height="4.08" fill="#0a6a4b"/>
<circle cx="391.70" cy="455.52" r="1.4" fill="#fff" stroke="#0a6a4b" stroke-width="0.95"/>
<circle cx="394.30" cy="455.52" r="1.4" fill="#fff" stroke="#0a6a4b" stroke-width="0.95"/>
<circle cx="396.90" cy="455.52" r="1.4" fill="#fff" stroke="#0a6a4b" stroke-width="0.95"/>
<line x1="428.70" y1="459.60" x2="428.70" y2="461.80" stroke="#111" stroke-width="0.8"/>
<line x1="415.90" y1="434.53" x2="415.90" y2="415.99" stroke="#000" stroke-width="0.9"/>
<line x1="414.20" y1="415.99" x2="417.60" y2="415.99" stroke="#000" stroke-width="0.9"/>
<rect x="411.90" y="434.53" width="8.00" height="25.07" fill="#000"/>
<circle cx="415.90" cy="402.13" r="1.4" fill="#fff" stroke="#000" stroke-width="0.95"/>
<circle cx="415.90" cy="411.50" r="1.4" fill="#fff" stroke="#000" stroke-width="0.95"/>
<circle cx="413.00" cy="436.37" r="1.4" fill="#fff" stroke="#000" stroke-width="0.95"/>
<circle cx="418.80" cy="436.37" r="1.4" fill="#fff" stroke="#000" stroke-width="0.95"/>
<circle cx="413.00" cy="443.30" r="1.4" fill="#fff" stroke="#000" stroke-width="0.95"/>
<circle cx="418.80" cy="443.30" r="1.4" fill="#fff" stroke="#000" stroke-width="0.95"/>
<circle cx="413.00" cy="450.23" r="1.4" fill="#fff" stroke="#000" stroke-width="0.95"/>
<circle cx="418.80" cy="450.23" r="1.4" fill="#fff" stroke="#000" stroke-width="0.95"/>
<line x1="428.70" y1="450.63" x2="428.70" y2="449.00" stroke="#2aa5e0" stroke-width="0.9"/>
<line x1="427.00" y1="449.00" x2="430.40" y2="449.00" stroke="#2aa5e0" stroke-width="0.9"/>
<rect x="424.70" y="450.63" width="8.00" height="8.97" fill="#2aa5e0"/>
<circle cx="425.30" cy="449.00" r="1.4" fill="#fff" stroke="#2aa5e0" stroke-width="0.95"/>
<circle cx="428.70" cy="447.78" r="1.4" fill="#fff" stroke="#2aa5e0" stroke-width="0.95"/>
<circle cx="432.10" cy="449.41" r="1.4" fill="#fff" stroke="#2aa5e0" stroke-width="0.95"/>
<circle cx="428.70" cy="452.26" r="1.4" fill="#fff" stroke="#2aa5e0" stroke-width="0.95"/>
<circle cx="428.70" cy="457.15" r="1.4" fill="#fff" stroke="#2aa5e0" stroke-width="0.95"/>
<line x1="441.20" y1="447.78" x2="441.20" y2="444.11" stroke="#0a6a4b" stroke-width="0.9"/>
<line x1="439.50" y1="444.11" x2="442.90" y2="444.11" stroke="#0a6a4b" stroke-width="0.9"/>
<rect x="437.20" y="447.78" width="8.00" height="11.82" fill="#0a6a4b"/>
<circle cx="441.20" cy="442.48" r="1.4" fill="#fff" stroke="#0a6a4b" stroke-width="0.95"/>
<circle cx="438.40" cy="450.63" r="1.4" fill="#fff" stroke="#0a6a4b" stroke-width="0.95"/>
<circle cx="444.00" cy="449.00" r="1.4" fill="#fff" stroke="#0a6a4b" stroke-width="0.95"/>
<line x1="475.30" y1="459.60" x2="475.30" y2="461.80" stroke="#111" stroke-width="0.8"/>
<line x1="462.50" y1="418.02" x2="462.50" y2="403.35" stroke="#000" stroke-width="0.9"/>
<line x1="460.80" y1="403.35" x2="464.20" y2="403.35" stroke="#000" stroke-width="0.9"/>
<rect x="458.50" y="418.02" width="8.00" height="41.58" fill="#000"/>
<circle cx="462.50" cy="398.05" r="1.4" fill="#fff" stroke="#000" stroke-width="0.95"/>
<circle cx="462.50" cy="402.94" r="1.4" fill="#fff" stroke="#000" stroke-width="0.95"/>
<circle cx="462.50" cy="421.29" r="1.4" fill="#fff" stroke="#000" stroke-width="0.95"/>
<circle cx="459.10" cy="433.51" r="1.4" fill="#fff" stroke="#000" stroke-width="0.95"/>
<line x1="475.30" y1="436.37" x2="475.30" y2="425.77" stroke="#2aa5e0" stroke-width="0.9"/>
<line x1="473.60" y1="425.77" x2="477.00" y2="425.77" stroke="#2aa5e0" stroke-width="0.9"/>
<rect x="471.30" y="436.37" width="8.00" height="23.23" fill="#2aa5e0"/>
<circle cx="475.30" cy="427.40" r="1.4" fill="#fff" stroke="#2aa5e0" stroke-width="0.95"/>
<circle cx="475.30" cy="443.30" r="1.4" fill="#fff" stroke="#2aa5e0" stroke-width="0.95"/>
<line x1="487.80" y1="441.67" x2="487.80" y2="432.70" stroke="#0a6a4b" stroke-width="0.9"/>
<line x1="486.10" y1="432.70" x2="489.50" y2="432.70" stroke="#0a6a4b" stroke-width="0.9"/>
<rect x="483.80" y="441.67" width="8.00" height="17.93" fill="#0a6a4b"/>
<circle cx="487.80" cy="432.70" r="1.4" fill="#fff" stroke="#0a6a4b" stroke-width="0.95"/>
<circle cx="487.80" cy="439.42" r="1.4" fill="#fff" stroke="#0a6a4b" stroke-width="0.95"/>
<circle cx="365.4" cy="359.2" r="1.5" fill="#fff" stroke="#000" stroke-width="1"/>
<text x="370.20" y="361.50" font-size="7.0" text-anchor="start" fill="#222" stroke="#222" stroke-width="0.12">CTRLsh</text>
<circle cx="410.5" cy="359.2" r="1.5" fill="#fff" stroke="#2aa5e0" stroke-width="1"/>
<text x="415.30" y="361.50" font-size="7.0" text-anchor="start" fill="#222" stroke="#222" stroke-width="0.12">SUPT20Hsh</text>
<circle cx="470.6" cy="359.2" r="1.5" fill="#fff" stroke="#0a6a4b" stroke-width="1"/>
<text x="475.40" y="361.50" font-size="7.0" text-anchor="start" fill="#222" stroke="#222" stroke-width="0.12">ZZZ3sh</text>
<path d="M416.3,382.4 L416.3,380.2 L430.2,380.2 L430.2,382.4" fill="none" stroke="#111" stroke-width="0.9"/>
<text x="423.25" y="379.20" font-size="6.2" text-anchor="middle" fill="#111" stroke="#111" stroke-width="0.2">*</text>
<path d="M462.3,382.4 L462.3,380.2 L487.7,380.2 L487.7,382.4" fill="none" stroke="#111" stroke-width="0.9"/>
<text x="475.00" y="379.20" font-size="6.2" text-anchor="middle" fill="#111" stroke="#111" stroke-width="0.2">*</text>
<text x="382.50" y="472.30" font-size="7.9" text-anchor="middle" fill="#222" font-style="italic" stroke="#222" stroke-width="0.12">Intergenic</text>
<text x="382.50" y="480.30" font-size="7.9" text-anchor="middle" fill="#222" font-style="italic" stroke="#222" stroke-width="0.12">region</text>
<text x="428.80" y="472.30" font-size="7.9" text-anchor="middle" fill="#222" font-style="italic" stroke="#222" stroke-width="0.12">HBB</text>
<text x="475.60" y="472.30" font-size="7.9" text-anchor="middle" fill="#222" font-style="italic" stroke="#222" stroke-width="0.12">RPS7</text>
<text transform="translate(329.3,408.4) rotate(-90)" font-size="8.2" text-anchor="middle" fill="#222" stroke="#222" stroke-width="0.2" textLength="22.2" lengthAdjust="spacingAndGlyphs">H3K9ac</text>
<text transform="translate(339.4,410.3) rotate(-90)" font-size="8.2" text-anchor="middle" fill="#222" stroke="#222" stroke-width="0.2" textLength="82.4" lengthAdjust="spacingAndGlyphs">(enrichment over Rabbit IgG)</text>
<text x="305.00" y="512.00" font-size="10.2" text-anchor="start" fill="#000" font-weight="bold">G</text>
<line x1="358.10" y1="516.40" x2="358.10" y2="622.40" stroke="#111" stroke-width="1.1"/>
<line x1="355.10" y1="621.90" x2="358.10" y2="621.90" stroke="#111" stroke-width="0.9"/>
<text x="352.20" y="624.30" font-size="7.0" text-anchor="end" fill="#222" stroke="#222" stroke-width="0.12">0</text>
<line x1="355.10" y1="587.15" x2="358.10" y2="587.15" stroke="#111" stroke-width="0.9"/>
<text x="352.20" y="589.55" font-size="7.0" text-anchor="end" fill="#222" stroke="#222" stroke-width="0.12">1</text>
<line x1="355.10" y1="552.40" x2="358.10" y2="552.40" stroke="#111" stroke-width="0.9"/>
<text x="352.20" y="554.80" font-size="7.0" text-anchor="end" fill="#222" stroke="#222" stroke-width="0.12">2</text>
<line x1="355.10" y1="517.65" x2="358.10" y2="517.65" stroke="#111" stroke-width="0.9"/>
<text x="352.20" y="520.05" font-size="7.0" text-anchor="end" fill="#222" stroke="#222" stroke-width="0.12">3</text>
<line x1="358.10" y1="621.90" x2="510.20" y2="621.90" stroke="#111" stroke-width="1.1"/>
<line x1="373.90" y1="621.90" x2="373.90" y2="624.10" stroke="#111" stroke-width="0.8"/>
<rect x="363.35" y="587.15" width="5.30" height="34.75" fill="#000"/>
<circle cx="364.40" cy="587.15" r="1.3" fill="#fff" stroke="#000" stroke-width="0.95"/>
<circle cx="367.60" cy="587.15" r="1.3" fill="#fff" stroke="#000" stroke-width="0.95"/>
<line x1="374.00" y1="603.48" x2="374.00" y2="601.75" stroke="#2aa5e0" stroke-width="0.9"/>
<line x1="372.30" y1="601.75" x2="375.70" y2="601.75" stroke="#2aa5e0" stroke-width="0.9"/>
<rect x="371.35" y="603.48" width="5.30" height="18.42" fill="#2aa5e0"/>
<circle cx="372.00" cy="602.44" r="1.3" fill="#fff" stroke="#2aa5e0" stroke-width="0.95"/>
<circle cx="376.00" cy="602.44" r="1.3" fill="#fff" stroke="#2aa5e0" stroke-width="0.95"/>
<circle cx="374.00" cy="608.00" r="1.3" fill="#fff" stroke="#2aa5e0" stroke-width="0.95"/>
<line x1="382.00" y1="579.16" x2="382.00" y2="559.00" stroke="#0a6a4b" stroke-width="0.9"/>
<line x1="380.30" y1="559.00" x2="383.70" y2="559.00" stroke="#0a6a4b" stroke-width="0.9"/>
<rect x="379.35" y="579.16" width="5.30" height="42.74" fill="#0a6a4b"/>
<circle cx="382.00" cy="562.13" r="1.3" fill="#fff" stroke="#0a6a4b" stroke-width="0.95"/>
<circle cx="382.00" cy="572.90" r="1.3" fill="#fff" stroke="#0a6a4b" stroke-width="0.95"/>
<circle cx="382.00" cy="600.01" r="1.3" fill="#fff" stroke="#0a6a4b" stroke-width="0.95"/>
<line x1="404.30" y1="621.90" x2="404.30" y2="624.10" stroke="#111" stroke-width="0.8"/>
<rect x="393.75" y="587.15" width="5.30" height="34.75" fill="#000"/>
<circle cx="394.80" cy="587.15" r="1.3" fill="#fff" stroke="#000" stroke-width="0.95"/>
<circle cx="398.00" cy="587.15" r="1.3" fill="#fff" stroke="#000" stroke-width="0.95"/>
<line x1="404.40" y1="579.16" x2="404.40" y2="562.13" stroke="#2aa5e0" stroke-width="0.9"/>
<line x1="402.70" y1="562.13" x2="406.10" y2="562.13" stroke="#2aa5e0" stroke-width="0.9"/>
<rect x="401.75" y="579.16" width="5.30" height="42.74" fill="#2aa5e0"/>
<circle cx="404.40" cy="548.92" r="1.3" fill="#fff" stroke="#2aa5e0" stroke-width="0.95"/>
<circle cx="404.40" cy="572.90" r="1.3" fill="#fff" stroke="#2aa5e0" stroke-width="0.95"/>
<circle cx="404.40" cy="577.42" r="1.3" fill="#fff" stroke="#2aa5e0" stroke-width="0.95"/>
<circle cx="404.40" cy="586.45" r="1.3" fill="#fff" stroke="#2aa5e0" stroke-width="0.95"/>
<circle cx="406.40" cy="590.97" r="1.3" fill="#fff" stroke="#2aa5e0" stroke-width="0.95"/>
<circle cx="402.40" cy="593.75" r="1.3" fill="#fff" stroke="#2aa5e0" stroke-width="0.95"/>
<line x1="412.40" y1="602.79" x2="412.40" y2="591.32" stroke="#0a6a4b" stroke-width="0.9"/>
<line x1="410.70" y1="591.32" x2="414.10" y2="591.32" stroke="#0a6a4b" stroke-width="0.9"/>
<rect x="409.75" y="602.79" width="5.30" height="19.11" fill="#0a6a4b"/>
<circle cx="410.90" cy="594.79" r="1.3" fill="#fff" stroke="#0a6a4b" stroke-width="0.95"/>
<circle cx="414.40" cy="596.88" r="1.3" fill="#fff" stroke="#0a6a4b" stroke-width="0.95"/>
<circle cx="412.40" cy="603.13" r="1.3" fill="#fff" stroke="#0a6a4b" stroke-width="0.95"/>
<circle cx="412.40" cy="620.86" r="1.3" fill="#fff" stroke="#0a6a4b" stroke-width="0.95"/>
<line x1="434.80" y1="621.90" x2="434.80" y2="624.10" stroke="#111" stroke-width="0.8"/>
<rect x="424.25" y="587.15" width="5.30" height="34.75" fill="#000"/>
<circle cx="425.30" cy="587.15" r="1.3" fill="#fff" stroke="#000" stroke-width="0.95"/>
<circle cx="428.50" cy="587.15" r="1.3" fill="#fff" stroke="#000" stroke-width="0.95"/>
<line x1="434.90" y1="606.61" x2="434.90" y2="595.84" stroke="#2aa5e0" stroke-width="0.9"/>
<line x1="433.20" y1="595.84" x2="436.60" y2="595.84" stroke="#2aa5e0" stroke-width="0.9"/>
<rect x="432.25" y="606.61" width="5.30" height="15.29" fill="#2aa5e0"/>
<circle cx="434.90" cy="590.62" r="1.3" fill="#fff" stroke="#2aa5e0" stroke-width="0.95"/>
<circle cx="433.40" cy="600.36" r="1.3" fill="#fff" stroke="#2aa5e0" stroke-width="0.95"/>
<circle cx="436.40" cy="602.44" r="1.3" fill="#fff" stroke="#2aa5e0" stroke-width="0.95"/>
<circle cx="434.90" cy="607.30" r="1.3" fill="#fff" stroke="#2aa5e0" stroke-width="0.95"/>
<circle cx="433.70" cy="620.16" r="1.3" fill="#fff" stroke="#2aa5e0" stroke-width="0.95"/>
<circle cx="436.40" cy="617.73" r="1.3" fill="#fff" stroke="#2aa5e0" stroke-width="0.95"/>
<line x1="442.90" y1="587.15" x2="442.90" y2="572.21" stroke="#0a6a4b" stroke-width="0.9"/>
<line x1="441.20" y1="572.21" x2="444.60" y2="572.21" stroke="#0a6a4b" stroke-width="0.9"/>
<rect x="440.25" y="587.15" width="5.30" height="34.75" fill="#0a6a4b"/>
<circle cx="442.90" cy="576.73" r="1.3" fill="#fff" stroke="#0a6a4b" stroke-width="0.95"/>
<circle cx="442.90" cy="604.52" r="1.3" fill="#fff" stroke="#0a6a4b" stroke-width="0.95"/>
<line x1="465.20" y1="621.90" x2="465.20" y2="624.10" stroke="#111" stroke-width="0.8"/>
<rect x="454.65" y="587.15" width="5.30" height="34.75" fill="#000"/>
<circle cx="455.70" cy="587.15" r="1.3" fill="#fff" stroke="#000" stroke-width="0.95"/>
<circle cx="458.90" cy="587.15" r="1.3" fill="#fff" stroke="#000" stroke-width="0.95"/>
<line x1="465.30" y1="587.85" x2="465.30" y2="581.94" stroke="#2aa5e0" stroke-width="0.9"/>
<line x1="463.60" y1="581.94" x2="467.00" y2="581.94" stroke="#2aa5e0" stroke-width="0.9"/>
<rect x="462.65" y="587.85" width="5.30" height="34.05" fill="#2aa5e0"/>
<circle cx="465.30" cy="581.94" r="1.3" fill="#fff" stroke="#2aa5e0" stroke-width="0.95"/>
<circle cx="465.30" cy="587.85" r="1.3" fill="#fff" stroke="#2aa5e0" stroke-width="0.95"/>
<circle cx="465.30" cy="600.36" r="1.3" fill="#fff" stroke="#2aa5e0" stroke-width="0.95"/>
<line x1="473.30" y1="603.13" x2="473.30" y2="600.36" stroke="#0a6a4b" stroke-width="0.9"/>
<line x1="471.60" y1="600.36" x2="475.00" y2="600.36" stroke="#0a6a4b" stroke-width="0.9"/>
<rect x="470.65" y="603.13" width="5.30" height="18.77" fill="#0a6a4b"/>
<circle cx="472.00" cy="601.05" r="1.3" fill="#fff" stroke="#0a6a4b" stroke-width="0.95"/>
<circle cx="474.60" cy="601.75" r="1.3" fill="#fff" stroke="#0a6a4b" stroke-width="0.95"/>
<circle cx="473.30" cy="608.00" r="1.3" fill="#fff" stroke="#0a6a4b" stroke-width="0.95"/>
<line x1="495.50" y1="621.90" x2="495.50" y2="624.10" stroke="#111" stroke-width="0.8"/>
<rect x="484.95" y="587.15" width="5.30" height="34.75" fill="#000"/>
<circle cx="486.00" cy="587.15" r="1.3" fill="#fff" stroke="#000" stroke-width="0.95"/>
<circle cx="489.20" cy="587.15" r="1.3" fill="#fff" stroke="#000" stroke-width="0.95"/>
<line x1="495.60" y1="592.36" x2="495.60" y2="583.67" stroke="#2aa5e0" stroke-width="0.9"/>
<line x1="493.90" y1="583.67" x2="497.30" y2="583.67" stroke="#2aa5e0" stroke-width="0.9"/>
<rect x="492.95" y="592.36" width="5.30" height="29.54" fill="#2aa5e0"/>
<circle cx="495.60" cy="582.98" r="1.3" fill="#fff" stroke="#2aa5e0" stroke-width="0.95"/>
<circle cx="495.60" cy="587.15" r="1.3" fill="#fff" stroke="#2aa5e0" stroke-width="0.95"/>
<circle cx="495.60" cy="602.79" r="1.3" fill="#fff" stroke="#2aa5e0" stroke-width="0.95"/>
<line x1="503.60" y1="598.27" x2="503.60" y2="592.71" stroke="#0a6a4b" stroke-width="0.9"/>
<line x1="501.90" y1="592.71" x2="505.30" y2="592.71" stroke="#0a6a4b" stroke-width="0.9"/>
<rect x="500.95" y="598.27" width="5.30" height="23.63" fill="#0a6a4b"/>
<circle cx="503.60" cy="593.40" r="1.3" fill="#fff" stroke="#0a6a4b" stroke-width="0.95"/>
<circle cx="502.10" cy="599.31" r="1.3" fill="#fff" stroke="#0a6a4b" stroke-width="0.95"/>
<circle cx="505.10" cy="598.96" r="1.3" fill="#fff" stroke="#0a6a4b" stroke-width="0.95"/>
<circle cx="365.4" cy="518.5" r="1.5" fill="#fff" stroke="#000" stroke-width="1"/>
<text x="370.20" y="520.80" font-size="7.0" text-anchor="start" fill="#222" stroke="#222" stroke-width="0.12">CTRLsh</text>
<circle cx="411" cy="518.5" r="1.5" fill="#fff" stroke="#2aa5e0" stroke-width="1"/>
<text x="415.80" y="520.80" font-size="7.0" text-anchor="start" fill="#222" stroke="#222" stroke-width="0.12">SUPT20Hsh</text>
<circle cx="470.1" cy="518.5" r="1.5" fill="#fff" stroke="#0a6a4b" stroke-width="1"/>
<text x="474.90" y="520.80" font-size="7.0" text-anchor="start" fill="#222" stroke="#222" stroke-width="0.12">ZZZ3sh</text>
<path d="M364.3,533.7 L364.3,531.5 L373.0,531.5 L373.0,533.7" fill="none" stroke="#111" stroke-width="0.9"/>
<text x="368.65" y="530.50" font-size="6.2" text-anchor="middle" fill="#111" stroke="#111" stroke-width="0.2">**</text>
<path d="M394.0,533.7 L394.0,531.5 L411.9,531.5 L411.9,533.7" fill="none" stroke="#111" stroke-width="0.9"/>
<text x="402.95" y="530.50" font-size="6.2" text-anchor="middle" fill="#111" stroke="#111" stroke-width="0.2">*</text>
<path d="M423.5,533.7 L423.5,531.5 L431.5,531.5 L431.5,533.7" fill="none" stroke="#111" stroke-width="0.9"/>
<text x="427.50" y="530.50" font-size="6.2" text-anchor="middle" fill="#111" stroke="#111" stroke-width="0.2">*</text>
<path d="M454.6,533.7 L454.6,531.5 L471.9,531.5 L471.9,533.7" fill="none" stroke="#111" stroke-width="0.9"/>
<text x="463.25" y="530.50" font-size="6.2" text-anchor="middle" fill="#111" stroke="#111" stroke-width="0.2">***</text>
<path d="M485.5,533.7 L485.5,531.5 L503.4,531.5 L503.4,533.7" fill="none" stroke="#111" stroke-width="0.9"/>
<text x="494.45" y="530.50" font-size="6.2" text-anchor="middle" fill="#111" stroke="#111" stroke-width="0.2">*</text>
<text x="373.80" y="633.60" font-size="7.9" text-anchor="middle" fill="#222" font-style="italic" stroke="#222" stroke-width="0.12">SUPT20H</text>
<text x="404.30" y="633.60" font-size="7.9" text-anchor="middle" fill="#222" font-style="italic" stroke="#222" stroke-width="0.12">ZZZ3</text>
<text x="435.00" y="633.60" font-size="7.9" text-anchor="middle" fill="#222" font-style="italic" stroke="#222" stroke-width="0.12">HBB</text>
<text x="466.50" y="633.60" font-size="7.9" text-anchor="middle" fill="#222" font-style="italic" stroke="#222" stroke-width="0.12">RPS7</text>
<text x="496.30" y="633.60" font-size="7.9" text-anchor="middle" fill="#222" font-style="italic" stroke="#222" stroke-width="0.12">RPL13</text>
<text transform="translate(331.0,570.5) rotate(-90)" font-size="8.2" text-anchor="middle" fill="#222" stroke="#222" stroke-width="0.2" textLength="56.9" lengthAdjust="spacingAndGlyphs">Relative mRNA level</text>
<text transform="translate(341.8,570.5) rotate(-90)" font-size="8.2" text-anchor="middle" fill="#222" stroke="#222" stroke-width="0.2" textLength="58.3" lengthAdjust="spacingAndGlyphs">(<tspan font-style="italic">HPRT1</tspan> normalised)</text>
</svg>
</body></html>
